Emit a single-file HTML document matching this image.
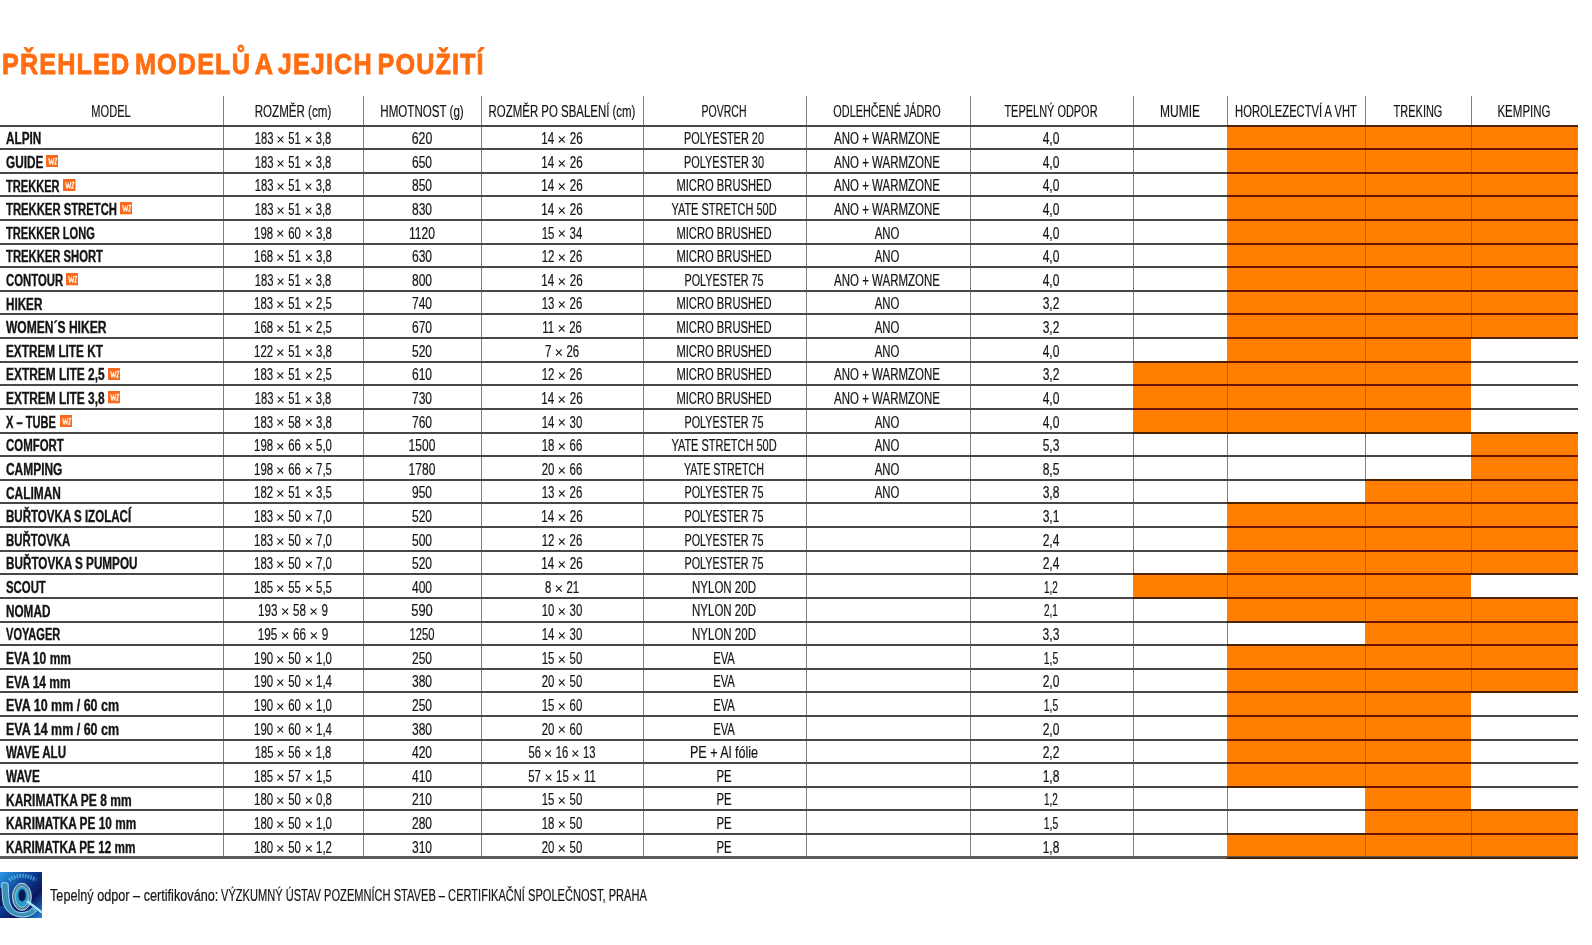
<!DOCTYPE html><html><head><meta charset="utf-8"><title>Přehled modelů</title><style>
html,body{margin:0;padding:0;}
body{width:1592px;height:945px;overflow:hidden;position:relative;background:#fff;font-family:"Liberation Sans",sans-serif;color:#141414;}
.t{position:absolute;white-space:nowrap;line-height:1;}
.o{position:absolute;background:#ff8000;}
.h{position:absolute;height:2px;}
.v{position:absolute;width:1px;}
.wz{position:absolute;width:12.5px;height:12.3px;}
.wz span{position:absolute;left:0;right:0;top:1.6px;text-align:center;font-weight:bold;font-size:10.2px;line-height:1;color:#ffe6cf;transform:scaleX(0.56);}
.rg{-webkit-text-stroke:0.2px currentColor;}
.bd{-webkit-text-stroke:0.35px currentColor;}
.x{display:inline-block;width:9.3px;height:7.1px;vertical-align:1px;margin:0 1.4px}

</style></head><body>

<div class="t bd" style="top:49.41px;font-size:29.4px;font-weight:bold;color:#ff6d10;left:1.50px;transform:scaleX(0.8580);transform-origin:0 0;"><span style="letter-spacing:1.3px;word-spacing:-4px;-webkit-text-stroke:0.8px #ff6d10">PŘEHLED MODELŮ A JEJICH POUŽITÍ</span></div>
<div class="o" style="left:1227px;top:125.50px;width:138px;height:23.62px"></div>
<div class="o" style="left:1365px;top:125.50px;width:106px;height:23.62px"></div>
<div class="o" style="left:1471px;top:125.50px;width:107px;height:23.62px"></div>
<div class="o" style="left:1227px;top:149.12px;width:138px;height:23.62px"></div>
<div class="o" style="left:1365px;top:149.12px;width:106px;height:23.62px"></div>
<div class="o" style="left:1471px;top:149.12px;width:107px;height:23.62px"></div>
<div class="o" style="left:1227px;top:172.74px;width:138px;height:23.62px"></div>
<div class="o" style="left:1365px;top:172.74px;width:106px;height:23.62px"></div>
<div class="o" style="left:1471px;top:172.74px;width:107px;height:23.62px"></div>
<div class="o" style="left:1227px;top:196.36px;width:138px;height:23.62px"></div>
<div class="o" style="left:1365px;top:196.36px;width:106px;height:23.62px"></div>
<div class="o" style="left:1471px;top:196.36px;width:107px;height:23.62px"></div>
<div class="o" style="left:1227px;top:219.98px;width:138px;height:23.62px"></div>
<div class="o" style="left:1365px;top:219.98px;width:106px;height:23.62px"></div>
<div class="o" style="left:1471px;top:219.98px;width:107px;height:23.62px"></div>
<div class="o" style="left:1227px;top:243.60px;width:138px;height:23.62px"></div>
<div class="o" style="left:1365px;top:243.60px;width:106px;height:23.62px"></div>
<div class="o" style="left:1471px;top:243.60px;width:107px;height:23.62px"></div>
<div class="o" style="left:1227px;top:267.22px;width:138px;height:23.62px"></div>
<div class="o" style="left:1365px;top:267.22px;width:106px;height:23.62px"></div>
<div class="o" style="left:1471px;top:267.22px;width:107px;height:23.62px"></div>
<div class="o" style="left:1227px;top:290.84px;width:138px;height:23.62px"></div>
<div class="o" style="left:1365px;top:290.84px;width:106px;height:23.62px"></div>
<div class="o" style="left:1471px;top:290.84px;width:107px;height:23.62px"></div>
<div class="o" style="left:1227px;top:314.46px;width:138px;height:23.62px"></div>
<div class="o" style="left:1365px;top:314.46px;width:106px;height:23.62px"></div>
<div class="o" style="left:1471px;top:314.46px;width:107px;height:23.62px"></div>
<div class="o" style="left:1227px;top:338.08px;width:138px;height:23.62px"></div>
<div class="o" style="left:1365px;top:338.08px;width:106px;height:23.62px"></div>
<div class="o" style="left:1133px;top:361.70px;width:94px;height:23.62px"></div>
<div class="o" style="left:1227px;top:361.70px;width:138px;height:23.62px"></div>
<div class="o" style="left:1365px;top:361.70px;width:106px;height:23.62px"></div>
<div class="o" style="left:1133px;top:385.32px;width:94px;height:23.62px"></div>
<div class="o" style="left:1227px;top:385.32px;width:138px;height:23.62px"></div>
<div class="o" style="left:1365px;top:385.32px;width:106px;height:23.62px"></div>
<div class="o" style="left:1133px;top:408.94px;width:94px;height:23.62px"></div>
<div class="o" style="left:1227px;top:408.94px;width:138px;height:23.62px"></div>
<div class="o" style="left:1365px;top:408.94px;width:106px;height:23.62px"></div>
<div class="o" style="left:1471px;top:432.56px;width:107px;height:23.62px"></div>
<div class="o" style="left:1471px;top:456.18px;width:107px;height:23.62px"></div>
<div class="o" style="left:1365px;top:479.80px;width:106px;height:23.62px"></div>
<div class="o" style="left:1471px;top:479.80px;width:107px;height:23.62px"></div>
<div class="o" style="left:1227px;top:503.42px;width:138px;height:23.62px"></div>
<div class="o" style="left:1365px;top:503.42px;width:106px;height:23.62px"></div>
<div class="o" style="left:1471px;top:503.42px;width:107px;height:23.62px"></div>
<div class="o" style="left:1227px;top:527.04px;width:138px;height:23.62px"></div>
<div class="o" style="left:1365px;top:527.04px;width:106px;height:23.62px"></div>
<div class="o" style="left:1471px;top:527.04px;width:107px;height:23.62px"></div>
<div class="o" style="left:1227px;top:550.66px;width:138px;height:23.62px"></div>
<div class="o" style="left:1365px;top:550.66px;width:106px;height:23.62px"></div>
<div class="o" style="left:1471px;top:550.66px;width:107px;height:23.62px"></div>
<div class="o" style="left:1133px;top:574.28px;width:94px;height:23.62px"></div>
<div class="o" style="left:1227px;top:574.28px;width:138px;height:23.62px"></div>
<div class="o" style="left:1365px;top:574.28px;width:106px;height:23.62px"></div>
<div class="o" style="left:1227px;top:597.90px;width:138px;height:23.62px"></div>
<div class="o" style="left:1365px;top:597.90px;width:106px;height:23.62px"></div>
<div class="o" style="left:1471px;top:597.90px;width:107px;height:23.62px"></div>
<div class="o" style="left:1365px;top:621.52px;width:106px;height:23.62px"></div>
<div class="o" style="left:1471px;top:621.52px;width:107px;height:23.62px"></div>
<div class="o" style="left:1227px;top:645.14px;width:138px;height:23.62px"></div>
<div class="o" style="left:1365px;top:645.14px;width:106px;height:23.62px"></div>
<div class="o" style="left:1471px;top:645.14px;width:107px;height:23.62px"></div>
<div class="o" style="left:1227px;top:668.76px;width:138px;height:23.62px"></div>
<div class="o" style="left:1365px;top:668.76px;width:106px;height:23.62px"></div>
<div class="o" style="left:1471px;top:668.76px;width:107px;height:23.62px"></div>
<div class="o" style="left:1227px;top:692.38px;width:138px;height:23.62px"></div>
<div class="o" style="left:1365px;top:692.38px;width:106px;height:23.62px"></div>
<div class="o" style="left:1227px;top:716.00px;width:138px;height:23.62px"></div>
<div class="o" style="left:1365px;top:716.00px;width:106px;height:23.62px"></div>
<div class="o" style="left:1227px;top:739.62px;width:138px;height:23.62px"></div>
<div class="o" style="left:1365px;top:739.62px;width:106px;height:23.62px"></div>
<div class="o" style="left:1227px;top:763.24px;width:138px;height:23.62px"></div>
<div class="o" style="left:1365px;top:763.24px;width:106px;height:23.62px"></div>
<div class="o" style="left:1365px;top:786.86px;width:106px;height:23.62px"></div>
<div class="o" style="left:1365px;top:810.48px;width:106px;height:23.62px"></div>
<div class="o" style="left:1471px;top:810.48px;width:107px;height:23.62px"></div>
<div class="o" style="left:1227px;top:834.10px;width:138px;height:23.62px"></div>
<div class="o" style="left:1365px;top:834.10px;width:106px;height:23.62px"></div>
<div class="o" style="left:1471px;top:834.10px;width:107px;height:23.62px"></div>
<div class="v" style="left:223px;top:96px;height:29.50px;background:#808080"></div>
<div class="v" style="left:223px;top:125.50px;height:23.62px;background:#808080"></div>
<div class="v" style="left:223px;top:149.12px;height:23.62px;background:#808080"></div>
<div class="v" style="left:223px;top:172.74px;height:23.62px;background:#808080"></div>
<div class="v" style="left:223px;top:196.36px;height:23.62px;background:#808080"></div>
<div class="v" style="left:223px;top:219.98px;height:23.62px;background:#808080"></div>
<div class="v" style="left:223px;top:243.60px;height:23.62px;background:#808080"></div>
<div class="v" style="left:223px;top:267.22px;height:23.62px;background:#808080"></div>
<div class="v" style="left:223px;top:290.84px;height:23.62px;background:#808080"></div>
<div class="v" style="left:223px;top:314.46px;height:23.62px;background:#808080"></div>
<div class="v" style="left:223px;top:338.08px;height:23.62px;background:#808080"></div>
<div class="v" style="left:223px;top:361.70px;height:23.62px;background:#808080"></div>
<div class="v" style="left:223px;top:385.32px;height:23.62px;background:#808080"></div>
<div class="v" style="left:223px;top:408.94px;height:23.62px;background:#808080"></div>
<div class="v" style="left:223px;top:432.56px;height:23.62px;background:#808080"></div>
<div class="v" style="left:223px;top:456.18px;height:23.62px;background:#808080"></div>
<div class="v" style="left:223px;top:479.80px;height:23.62px;background:#808080"></div>
<div class="v" style="left:223px;top:503.42px;height:23.62px;background:#808080"></div>
<div class="v" style="left:223px;top:527.04px;height:23.62px;background:#808080"></div>
<div class="v" style="left:223px;top:550.66px;height:23.62px;background:#808080"></div>
<div class="v" style="left:223px;top:574.28px;height:23.62px;background:#808080"></div>
<div class="v" style="left:223px;top:597.90px;height:23.62px;background:#808080"></div>
<div class="v" style="left:223px;top:621.52px;height:23.62px;background:#808080"></div>
<div class="v" style="left:223px;top:645.14px;height:23.62px;background:#808080"></div>
<div class="v" style="left:223px;top:668.76px;height:23.62px;background:#808080"></div>
<div class="v" style="left:223px;top:692.38px;height:23.62px;background:#808080"></div>
<div class="v" style="left:223px;top:716.00px;height:23.62px;background:#808080"></div>
<div class="v" style="left:223px;top:739.62px;height:23.62px;background:#808080"></div>
<div class="v" style="left:223px;top:763.24px;height:23.62px;background:#808080"></div>
<div class="v" style="left:223px;top:786.86px;height:23.62px;background:#808080"></div>
<div class="v" style="left:223px;top:810.48px;height:23.62px;background:#808080"></div>
<div class="v" style="left:223px;top:834.10px;height:23.62px;background:#808080"></div>
<div class="v" style="left:363px;top:96px;height:29.50px;background:#808080"></div>
<div class="v" style="left:363px;top:125.50px;height:23.62px;background:#808080"></div>
<div class="v" style="left:363px;top:149.12px;height:23.62px;background:#808080"></div>
<div class="v" style="left:363px;top:172.74px;height:23.62px;background:#808080"></div>
<div class="v" style="left:363px;top:196.36px;height:23.62px;background:#808080"></div>
<div class="v" style="left:363px;top:219.98px;height:23.62px;background:#808080"></div>
<div class="v" style="left:363px;top:243.60px;height:23.62px;background:#808080"></div>
<div class="v" style="left:363px;top:267.22px;height:23.62px;background:#808080"></div>
<div class="v" style="left:363px;top:290.84px;height:23.62px;background:#808080"></div>
<div class="v" style="left:363px;top:314.46px;height:23.62px;background:#808080"></div>
<div class="v" style="left:363px;top:338.08px;height:23.62px;background:#808080"></div>
<div class="v" style="left:363px;top:361.70px;height:23.62px;background:#808080"></div>
<div class="v" style="left:363px;top:385.32px;height:23.62px;background:#808080"></div>
<div class="v" style="left:363px;top:408.94px;height:23.62px;background:#808080"></div>
<div class="v" style="left:363px;top:432.56px;height:23.62px;background:#808080"></div>
<div class="v" style="left:363px;top:456.18px;height:23.62px;background:#808080"></div>
<div class="v" style="left:363px;top:479.80px;height:23.62px;background:#808080"></div>
<div class="v" style="left:363px;top:503.42px;height:23.62px;background:#808080"></div>
<div class="v" style="left:363px;top:527.04px;height:23.62px;background:#808080"></div>
<div class="v" style="left:363px;top:550.66px;height:23.62px;background:#808080"></div>
<div class="v" style="left:363px;top:574.28px;height:23.62px;background:#808080"></div>
<div class="v" style="left:363px;top:597.90px;height:23.62px;background:#808080"></div>
<div class="v" style="left:363px;top:621.52px;height:23.62px;background:#808080"></div>
<div class="v" style="left:363px;top:645.14px;height:23.62px;background:#808080"></div>
<div class="v" style="left:363px;top:668.76px;height:23.62px;background:#808080"></div>
<div class="v" style="left:363px;top:692.38px;height:23.62px;background:#808080"></div>
<div class="v" style="left:363px;top:716.00px;height:23.62px;background:#808080"></div>
<div class="v" style="left:363px;top:739.62px;height:23.62px;background:#808080"></div>
<div class="v" style="left:363px;top:763.24px;height:23.62px;background:#808080"></div>
<div class="v" style="left:363px;top:786.86px;height:23.62px;background:#808080"></div>
<div class="v" style="left:363px;top:810.48px;height:23.62px;background:#808080"></div>
<div class="v" style="left:363px;top:834.10px;height:23.62px;background:#808080"></div>
<div class="v" style="left:481px;top:96px;height:29.50px;background:#808080"></div>
<div class="v" style="left:481px;top:125.50px;height:23.62px;background:#808080"></div>
<div class="v" style="left:481px;top:149.12px;height:23.62px;background:#808080"></div>
<div class="v" style="left:481px;top:172.74px;height:23.62px;background:#808080"></div>
<div class="v" style="left:481px;top:196.36px;height:23.62px;background:#808080"></div>
<div class="v" style="left:481px;top:219.98px;height:23.62px;background:#808080"></div>
<div class="v" style="left:481px;top:243.60px;height:23.62px;background:#808080"></div>
<div class="v" style="left:481px;top:267.22px;height:23.62px;background:#808080"></div>
<div class="v" style="left:481px;top:290.84px;height:23.62px;background:#808080"></div>
<div class="v" style="left:481px;top:314.46px;height:23.62px;background:#808080"></div>
<div class="v" style="left:481px;top:338.08px;height:23.62px;background:#808080"></div>
<div class="v" style="left:481px;top:361.70px;height:23.62px;background:#808080"></div>
<div class="v" style="left:481px;top:385.32px;height:23.62px;background:#808080"></div>
<div class="v" style="left:481px;top:408.94px;height:23.62px;background:#808080"></div>
<div class="v" style="left:481px;top:432.56px;height:23.62px;background:#808080"></div>
<div class="v" style="left:481px;top:456.18px;height:23.62px;background:#808080"></div>
<div class="v" style="left:481px;top:479.80px;height:23.62px;background:#808080"></div>
<div class="v" style="left:481px;top:503.42px;height:23.62px;background:#808080"></div>
<div class="v" style="left:481px;top:527.04px;height:23.62px;background:#808080"></div>
<div class="v" style="left:481px;top:550.66px;height:23.62px;background:#808080"></div>
<div class="v" style="left:481px;top:574.28px;height:23.62px;background:#808080"></div>
<div class="v" style="left:481px;top:597.90px;height:23.62px;background:#808080"></div>
<div class="v" style="left:481px;top:621.52px;height:23.62px;background:#808080"></div>
<div class="v" style="left:481px;top:645.14px;height:23.62px;background:#808080"></div>
<div class="v" style="left:481px;top:668.76px;height:23.62px;background:#808080"></div>
<div class="v" style="left:481px;top:692.38px;height:23.62px;background:#808080"></div>
<div class="v" style="left:481px;top:716.00px;height:23.62px;background:#808080"></div>
<div class="v" style="left:481px;top:739.62px;height:23.62px;background:#808080"></div>
<div class="v" style="left:481px;top:763.24px;height:23.62px;background:#808080"></div>
<div class="v" style="left:481px;top:786.86px;height:23.62px;background:#808080"></div>
<div class="v" style="left:481px;top:810.48px;height:23.62px;background:#808080"></div>
<div class="v" style="left:481px;top:834.10px;height:23.62px;background:#808080"></div>
<div class="v" style="left:643px;top:96px;height:29.50px;background:#808080"></div>
<div class="v" style="left:643px;top:125.50px;height:23.62px;background:#808080"></div>
<div class="v" style="left:643px;top:149.12px;height:23.62px;background:#808080"></div>
<div class="v" style="left:643px;top:172.74px;height:23.62px;background:#808080"></div>
<div class="v" style="left:643px;top:196.36px;height:23.62px;background:#808080"></div>
<div class="v" style="left:643px;top:219.98px;height:23.62px;background:#808080"></div>
<div class="v" style="left:643px;top:243.60px;height:23.62px;background:#808080"></div>
<div class="v" style="left:643px;top:267.22px;height:23.62px;background:#808080"></div>
<div class="v" style="left:643px;top:290.84px;height:23.62px;background:#808080"></div>
<div class="v" style="left:643px;top:314.46px;height:23.62px;background:#808080"></div>
<div class="v" style="left:643px;top:338.08px;height:23.62px;background:#808080"></div>
<div class="v" style="left:643px;top:361.70px;height:23.62px;background:#808080"></div>
<div class="v" style="left:643px;top:385.32px;height:23.62px;background:#808080"></div>
<div class="v" style="left:643px;top:408.94px;height:23.62px;background:#808080"></div>
<div class="v" style="left:643px;top:432.56px;height:23.62px;background:#808080"></div>
<div class="v" style="left:643px;top:456.18px;height:23.62px;background:#808080"></div>
<div class="v" style="left:643px;top:479.80px;height:23.62px;background:#808080"></div>
<div class="v" style="left:643px;top:503.42px;height:23.62px;background:#808080"></div>
<div class="v" style="left:643px;top:527.04px;height:23.62px;background:#808080"></div>
<div class="v" style="left:643px;top:550.66px;height:23.62px;background:#808080"></div>
<div class="v" style="left:643px;top:574.28px;height:23.62px;background:#808080"></div>
<div class="v" style="left:643px;top:597.90px;height:23.62px;background:#808080"></div>
<div class="v" style="left:643px;top:621.52px;height:23.62px;background:#808080"></div>
<div class="v" style="left:643px;top:645.14px;height:23.62px;background:#808080"></div>
<div class="v" style="left:643px;top:668.76px;height:23.62px;background:#808080"></div>
<div class="v" style="left:643px;top:692.38px;height:23.62px;background:#808080"></div>
<div class="v" style="left:643px;top:716.00px;height:23.62px;background:#808080"></div>
<div class="v" style="left:643px;top:739.62px;height:23.62px;background:#808080"></div>
<div class="v" style="left:643px;top:763.24px;height:23.62px;background:#808080"></div>
<div class="v" style="left:643px;top:786.86px;height:23.62px;background:#808080"></div>
<div class="v" style="left:643px;top:810.48px;height:23.62px;background:#808080"></div>
<div class="v" style="left:643px;top:834.10px;height:23.62px;background:#808080"></div>
<div class="v" style="left:806px;top:96px;height:29.50px;background:#808080"></div>
<div class="v" style="left:806px;top:125.50px;height:23.62px;background:#808080"></div>
<div class="v" style="left:806px;top:149.12px;height:23.62px;background:#808080"></div>
<div class="v" style="left:806px;top:172.74px;height:23.62px;background:#808080"></div>
<div class="v" style="left:806px;top:196.36px;height:23.62px;background:#808080"></div>
<div class="v" style="left:806px;top:219.98px;height:23.62px;background:#808080"></div>
<div class="v" style="left:806px;top:243.60px;height:23.62px;background:#808080"></div>
<div class="v" style="left:806px;top:267.22px;height:23.62px;background:#808080"></div>
<div class="v" style="left:806px;top:290.84px;height:23.62px;background:#808080"></div>
<div class="v" style="left:806px;top:314.46px;height:23.62px;background:#808080"></div>
<div class="v" style="left:806px;top:338.08px;height:23.62px;background:#808080"></div>
<div class="v" style="left:806px;top:361.70px;height:23.62px;background:#808080"></div>
<div class="v" style="left:806px;top:385.32px;height:23.62px;background:#808080"></div>
<div class="v" style="left:806px;top:408.94px;height:23.62px;background:#808080"></div>
<div class="v" style="left:806px;top:432.56px;height:23.62px;background:#808080"></div>
<div class="v" style="left:806px;top:456.18px;height:23.62px;background:#808080"></div>
<div class="v" style="left:806px;top:479.80px;height:23.62px;background:#808080"></div>
<div class="v" style="left:806px;top:503.42px;height:23.62px;background:#808080"></div>
<div class="v" style="left:806px;top:527.04px;height:23.62px;background:#808080"></div>
<div class="v" style="left:806px;top:550.66px;height:23.62px;background:#808080"></div>
<div class="v" style="left:806px;top:574.28px;height:23.62px;background:#808080"></div>
<div class="v" style="left:806px;top:597.90px;height:23.62px;background:#808080"></div>
<div class="v" style="left:806px;top:621.52px;height:23.62px;background:#808080"></div>
<div class="v" style="left:806px;top:645.14px;height:23.62px;background:#808080"></div>
<div class="v" style="left:806px;top:668.76px;height:23.62px;background:#808080"></div>
<div class="v" style="left:806px;top:692.38px;height:23.62px;background:#808080"></div>
<div class="v" style="left:806px;top:716.00px;height:23.62px;background:#808080"></div>
<div class="v" style="left:806px;top:739.62px;height:23.62px;background:#808080"></div>
<div class="v" style="left:806px;top:763.24px;height:23.62px;background:#808080"></div>
<div class="v" style="left:806px;top:786.86px;height:23.62px;background:#808080"></div>
<div class="v" style="left:806px;top:810.48px;height:23.62px;background:#808080"></div>
<div class="v" style="left:806px;top:834.10px;height:23.62px;background:#808080"></div>
<div class="v" style="left:970px;top:96px;height:29.50px;background:#808080"></div>
<div class="v" style="left:970px;top:125.50px;height:23.62px;background:#808080"></div>
<div class="v" style="left:970px;top:149.12px;height:23.62px;background:#808080"></div>
<div class="v" style="left:970px;top:172.74px;height:23.62px;background:#808080"></div>
<div class="v" style="left:970px;top:196.36px;height:23.62px;background:#808080"></div>
<div class="v" style="left:970px;top:219.98px;height:23.62px;background:#808080"></div>
<div class="v" style="left:970px;top:243.60px;height:23.62px;background:#808080"></div>
<div class="v" style="left:970px;top:267.22px;height:23.62px;background:#808080"></div>
<div class="v" style="left:970px;top:290.84px;height:23.62px;background:#808080"></div>
<div class="v" style="left:970px;top:314.46px;height:23.62px;background:#808080"></div>
<div class="v" style="left:970px;top:338.08px;height:23.62px;background:#808080"></div>
<div class="v" style="left:970px;top:361.70px;height:23.62px;background:#808080"></div>
<div class="v" style="left:970px;top:385.32px;height:23.62px;background:#808080"></div>
<div class="v" style="left:970px;top:408.94px;height:23.62px;background:#808080"></div>
<div class="v" style="left:970px;top:432.56px;height:23.62px;background:#808080"></div>
<div class="v" style="left:970px;top:456.18px;height:23.62px;background:#808080"></div>
<div class="v" style="left:970px;top:479.80px;height:23.62px;background:#808080"></div>
<div class="v" style="left:970px;top:503.42px;height:23.62px;background:#808080"></div>
<div class="v" style="left:970px;top:527.04px;height:23.62px;background:#808080"></div>
<div class="v" style="left:970px;top:550.66px;height:23.62px;background:#808080"></div>
<div class="v" style="left:970px;top:574.28px;height:23.62px;background:#808080"></div>
<div class="v" style="left:970px;top:597.90px;height:23.62px;background:#808080"></div>
<div class="v" style="left:970px;top:621.52px;height:23.62px;background:#808080"></div>
<div class="v" style="left:970px;top:645.14px;height:23.62px;background:#808080"></div>
<div class="v" style="left:970px;top:668.76px;height:23.62px;background:#808080"></div>
<div class="v" style="left:970px;top:692.38px;height:23.62px;background:#808080"></div>
<div class="v" style="left:970px;top:716.00px;height:23.62px;background:#808080"></div>
<div class="v" style="left:970px;top:739.62px;height:23.62px;background:#808080"></div>
<div class="v" style="left:970px;top:763.24px;height:23.62px;background:#808080"></div>
<div class="v" style="left:970px;top:786.86px;height:23.62px;background:#808080"></div>
<div class="v" style="left:970px;top:810.48px;height:23.62px;background:#808080"></div>
<div class="v" style="left:970px;top:834.10px;height:23.62px;background:#808080"></div>
<div class="v" style="left:1133px;top:96px;height:29.50px;background:#808080"></div>
<div class="v" style="left:1133px;top:125.50px;height:23.62px;background:#808080"></div>
<div class="v" style="left:1133px;top:149.12px;height:23.62px;background:#808080"></div>
<div class="v" style="left:1133px;top:172.74px;height:23.62px;background:#808080"></div>
<div class="v" style="left:1133px;top:196.36px;height:23.62px;background:#808080"></div>
<div class="v" style="left:1133px;top:219.98px;height:23.62px;background:#808080"></div>
<div class="v" style="left:1133px;top:243.60px;height:23.62px;background:#808080"></div>
<div class="v" style="left:1133px;top:267.22px;height:23.62px;background:#808080"></div>
<div class="v" style="left:1133px;top:290.84px;height:23.62px;background:#808080"></div>
<div class="v" style="left:1133px;top:314.46px;height:23.62px;background:#808080"></div>
<div class="v" style="left:1133px;top:338.08px;height:23.62px;background:#808080"></div>
<div class="v" style="left:1133px;top:432.56px;height:23.62px;background:#808080"></div>
<div class="v" style="left:1133px;top:456.18px;height:23.62px;background:#808080"></div>
<div class="v" style="left:1133px;top:479.80px;height:23.62px;background:#808080"></div>
<div class="v" style="left:1133px;top:503.42px;height:23.62px;background:#808080"></div>
<div class="v" style="left:1133px;top:527.04px;height:23.62px;background:#808080"></div>
<div class="v" style="left:1133px;top:550.66px;height:23.62px;background:#808080"></div>
<div class="v" style="left:1133px;top:597.90px;height:23.62px;background:#808080"></div>
<div class="v" style="left:1133px;top:621.52px;height:23.62px;background:#808080"></div>
<div class="v" style="left:1133px;top:645.14px;height:23.62px;background:#808080"></div>
<div class="v" style="left:1133px;top:668.76px;height:23.62px;background:#808080"></div>
<div class="v" style="left:1133px;top:692.38px;height:23.62px;background:#808080"></div>
<div class="v" style="left:1133px;top:716.00px;height:23.62px;background:#808080"></div>
<div class="v" style="left:1133px;top:739.62px;height:23.62px;background:#808080"></div>
<div class="v" style="left:1133px;top:763.24px;height:23.62px;background:#808080"></div>
<div class="v" style="left:1133px;top:786.86px;height:23.62px;background:#808080"></div>
<div class="v" style="left:1133px;top:810.48px;height:23.62px;background:#808080"></div>
<div class="v" style="left:1133px;top:834.10px;height:23.62px;background:#808080"></div>
<div class="v" style="left:1227px;top:96px;height:29.50px;background:#808080"></div>
<div class="v" style="left:1227px;top:361.70px;height:23.62px;background:#c85f00"></div>
<div class="v" style="left:1227px;top:385.32px;height:23.62px;background:#c85f00"></div>
<div class="v" style="left:1227px;top:408.94px;height:23.62px;background:#c85f00"></div>
<div class="v" style="left:1227px;top:432.56px;height:23.62px;background:#808080"></div>
<div class="v" style="left:1227px;top:456.18px;height:23.62px;background:#808080"></div>
<div class="v" style="left:1227px;top:479.80px;height:23.62px;background:#808080"></div>
<div class="v" style="left:1227px;top:574.28px;height:23.62px;background:#c85f00"></div>
<div class="v" style="left:1227px;top:621.52px;height:23.62px;background:#808080"></div>
<div class="v" style="left:1227px;top:786.86px;height:23.62px;background:#808080"></div>
<div class="v" style="left:1227px;top:810.48px;height:23.62px;background:#808080"></div>
<div class="v" style="left:1365px;top:96px;height:29.50px;background:#808080"></div>
<div class="v" style="left:1365px;top:125.50px;height:23.62px;background:#c85f00"></div>
<div class="v" style="left:1365px;top:149.12px;height:23.62px;background:#c85f00"></div>
<div class="v" style="left:1365px;top:172.74px;height:23.62px;background:#c85f00"></div>
<div class="v" style="left:1365px;top:196.36px;height:23.62px;background:#c85f00"></div>
<div class="v" style="left:1365px;top:219.98px;height:23.62px;background:#c85f00"></div>
<div class="v" style="left:1365px;top:243.60px;height:23.62px;background:#c85f00"></div>
<div class="v" style="left:1365px;top:267.22px;height:23.62px;background:#c85f00"></div>
<div class="v" style="left:1365px;top:290.84px;height:23.62px;background:#c85f00"></div>
<div class="v" style="left:1365px;top:314.46px;height:23.62px;background:#c85f00"></div>
<div class="v" style="left:1365px;top:338.08px;height:23.62px;background:#c85f00"></div>
<div class="v" style="left:1365px;top:361.70px;height:23.62px;background:#c85f00"></div>
<div class="v" style="left:1365px;top:385.32px;height:23.62px;background:#c85f00"></div>
<div class="v" style="left:1365px;top:408.94px;height:23.62px;background:#c85f00"></div>
<div class="v" style="left:1365px;top:432.56px;height:23.62px;background:#808080"></div>
<div class="v" style="left:1365px;top:456.18px;height:23.62px;background:#808080"></div>
<div class="v" style="left:1365px;top:503.42px;height:23.62px;background:#c85f00"></div>
<div class="v" style="left:1365px;top:527.04px;height:23.62px;background:#c85f00"></div>
<div class="v" style="left:1365px;top:550.66px;height:23.62px;background:#c85f00"></div>
<div class="v" style="left:1365px;top:574.28px;height:23.62px;background:#c85f00"></div>
<div class="v" style="left:1365px;top:597.90px;height:23.62px;background:#c85f00"></div>
<div class="v" style="left:1365px;top:645.14px;height:23.62px;background:#c85f00"></div>
<div class="v" style="left:1365px;top:668.76px;height:23.62px;background:#c85f00"></div>
<div class="v" style="left:1365px;top:692.38px;height:23.62px;background:#c85f00"></div>
<div class="v" style="left:1365px;top:716.00px;height:23.62px;background:#c85f00"></div>
<div class="v" style="left:1365px;top:739.62px;height:23.62px;background:#c85f00"></div>
<div class="v" style="left:1365px;top:763.24px;height:23.62px;background:#c85f00"></div>
<div class="v" style="left:1365px;top:834.10px;height:23.62px;background:#c85f00"></div>
<div class="v" style="left:1471px;top:96px;height:29.50px;background:#808080"></div>
<div class="v" style="left:1471px;top:125.50px;height:23.62px;background:#c85f00"></div>
<div class="v" style="left:1471px;top:149.12px;height:23.62px;background:#c85f00"></div>
<div class="v" style="left:1471px;top:172.74px;height:23.62px;background:#c85f00"></div>
<div class="v" style="left:1471px;top:196.36px;height:23.62px;background:#c85f00"></div>
<div class="v" style="left:1471px;top:219.98px;height:23.62px;background:#c85f00"></div>
<div class="v" style="left:1471px;top:243.60px;height:23.62px;background:#c85f00"></div>
<div class="v" style="left:1471px;top:267.22px;height:23.62px;background:#c85f00"></div>
<div class="v" style="left:1471px;top:290.84px;height:23.62px;background:#c85f00"></div>
<div class="v" style="left:1471px;top:314.46px;height:23.62px;background:#c85f00"></div>
<div class="v" style="left:1471px;top:479.80px;height:23.62px;background:#c85f00"></div>
<div class="v" style="left:1471px;top:503.42px;height:23.62px;background:#c85f00"></div>
<div class="v" style="left:1471px;top:527.04px;height:23.62px;background:#c85f00"></div>
<div class="v" style="left:1471px;top:550.66px;height:23.62px;background:#c85f00"></div>
<div class="v" style="left:1471px;top:597.90px;height:23.62px;background:#c85f00"></div>
<div class="v" style="left:1471px;top:621.52px;height:23.62px;background:#c85f00"></div>
<div class="v" style="left:1471px;top:645.14px;height:23.62px;background:#c85f00"></div>
<div class="v" style="left:1471px;top:668.76px;height:23.62px;background:#c85f00"></div>
<div class="v" style="left:1471px;top:810.48px;height:23.62px;background:#c85f00"></div>
<div class="v" style="left:1471px;top:834.10px;height:23.62px;background:#c85f00"></div>
<div class="h" style="left:0;top:124.50px;width:1578px;background:#484848"></div>
<div class="h" style="left:1227px;top:124.50px;width:138px;background:#4a2200"></div>
<div class="h" style="left:1365px;top:124.50px;width:106px;background:#4a2200"></div>
<div class="h" style="left:1471px;top:124.50px;width:107px;background:#4a2200"></div>
<div class="h" style="left:0;top:148.12px;width:1578px;background:#484848"></div>
<div class="h" style="left:1227px;top:148.12px;width:138px;background:#6a1300"></div>
<div class="h" style="left:1365px;top:148.12px;width:106px;background:#6a1300"></div>
<div class="h" style="left:1471px;top:148.12px;width:107px;background:#6a1300"></div>
<div class="h" style="left:0;top:171.74px;width:1578px;background:#484848"></div>
<div class="h" style="left:1227px;top:171.74px;width:138px;background:#6a1300"></div>
<div class="h" style="left:1365px;top:171.74px;width:106px;background:#6a1300"></div>
<div class="h" style="left:1471px;top:171.74px;width:107px;background:#6a1300"></div>
<div class="h" style="left:0;top:195.36px;width:1578px;background:#484848"></div>
<div class="h" style="left:1227px;top:195.36px;width:138px;background:#6a1300"></div>
<div class="h" style="left:1365px;top:195.36px;width:106px;background:#6a1300"></div>
<div class="h" style="left:1471px;top:195.36px;width:107px;background:#6a1300"></div>
<div class="h" style="left:0;top:218.98px;width:1578px;background:#484848"></div>
<div class="h" style="left:1227px;top:218.98px;width:138px;background:#6a1300"></div>
<div class="h" style="left:1365px;top:218.98px;width:106px;background:#6a1300"></div>
<div class="h" style="left:1471px;top:218.98px;width:107px;background:#6a1300"></div>
<div class="h" style="left:0;top:242.60px;width:1578px;background:#484848"></div>
<div class="h" style="left:1227px;top:242.60px;width:138px;background:#6a1300"></div>
<div class="h" style="left:1365px;top:242.60px;width:106px;background:#6a1300"></div>
<div class="h" style="left:1471px;top:242.60px;width:107px;background:#6a1300"></div>
<div class="h" style="left:0;top:266.22px;width:1578px;background:#484848"></div>
<div class="h" style="left:1227px;top:266.22px;width:138px;background:#6a1300"></div>
<div class="h" style="left:1365px;top:266.22px;width:106px;background:#6a1300"></div>
<div class="h" style="left:1471px;top:266.22px;width:107px;background:#6a1300"></div>
<div class="h" style="left:0;top:289.84px;width:1578px;background:#484848"></div>
<div class="h" style="left:1227px;top:289.84px;width:138px;background:#6a1300"></div>
<div class="h" style="left:1365px;top:289.84px;width:106px;background:#6a1300"></div>
<div class="h" style="left:1471px;top:289.84px;width:107px;background:#6a1300"></div>
<div class="h" style="left:0;top:313.46px;width:1578px;background:#484848"></div>
<div class="h" style="left:1227px;top:313.46px;width:138px;background:#6a1300"></div>
<div class="h" style="left:1365px;top:313.46px;width:106px;background:#6a1300"></div>
<div class="h" style="left:1471px;top:313.46px;width:107px;background:#6a1300"></div>
<div class="h" style="left:0;top:337.08px;width:1578px;background:#484848"></div>
<div class="h" style="left:1227px;top:337.08px;width:138px;background:#6a1300"></div>
<div class="h" style="left:1365px;top:337.08px;width:106px;background:#6a1300"></div>
<div class="h" style="left:1471px;top:337.08px;width:107px;background:#4a2200"></div>
<div class="h" style="left:0;top:360.70px;width:1578px;background:#484848"></div>
<div class="h" style="left:1133px;top:360.70px;width:94px;background:#4a2200"></div>
<div class="h" style="left:1227px;top:360.70px;width:138px;background:#6a1300"></div>
<div class="h" style="left:1365px;top:360.70px;width:106px;background:#6a1300"></div>
<div class="h" style="left:0;top:384.32px;width:1578px;background:#484848"></div>
<div class="h" style="left:1133px;top:384.32px;width:94px;background:#6a1300"></div>
<div class="h" style="left:1227px;top:384.32px;width:138px;background:#6a1300"></div>
<div class="h" style="left:1365px;top:384.32px;width:106px;background:#6a1300"></div>
<div class="h" style="left:0;top:407.94px;width:1578px;background:#484848"></div>
<div class="h" style="left:1133px;top:407.94px;width:94px;background:#6a1300"></div>
<div class="h" style="left:1227px;top:407.94px;width:138px;background:#6a1300"></div>
<div class="h" style="left:1365px;top:407.94px;width:106px;background:#6a1300"></div>
<div class="h" style="left:0;top:431.56px;width:1578px;background:#484848"></div>
<div class="h" style="left:1133px;top:431.56px;width:94px;background:#4a2200"></div>
<div class="h" style="left:1227px;top:431.56px;width:138px;background:#4a2200"></div>
<div class="h" style="left:1365px;top:431.56px;width:106px;background:#4a2200"></div>
<div class="h" style="left:1471px;top:431.56px;width:107px;background:#4a2200"></div>
<div class="h" style="left:0;top:455.18px;width:1578px;background:#484848"></div>
<div class="h" style="left:1471px;top:455.18px;width:107px;background:#6a1300"></div>
<div class="h" style="left:0;top:478.80px;width:1578px;background:#484848"></div>
<div class="h" style="left:1365px;top:478.80px;width:106px;background:#4a2200"></div>
<div class="h" style="left:1471px;top:478.80px;width:107px;background:#6a1300"></div>
<div class="h" style="left:0;top:502.42px;width:1578px;background:#484848"></div>
<div class="h" style="left:1227px;top:502.42px;width:138px;background:#4a2200"></div>
<div class="h" style="left:1365px;top:502.42px;width:106px;background:#6a1300"></div>
<div class="h" style="left:1471px;top:502.42px;width:107px;background:#6a1300"></div>
<div class="h" style="left:0;top:526.04px;width:1578px;background:#484848"></div>
<div class="h" style="left:1227px;top:526.04px;width:138px;background:#6a1300"></div>
<div class="h" style="left:1365px;top:526.04px;width:106px;background:#6a1300"></div>
<div class="h" style="left:1471px;top:526.04px;width:107px;background:#6a1300"></div>
<div class="h" style="left:0;top:549.66px;width:1578px;background:#484848"></div>
<div class="h" style="left:1227px;top:549.66px;width:138px;background:#6a1300"></div>
<div class="h" style="left:1365px;top:549.66px;width:106px;background:#6a1300"></div>
<div class="h" style="left:1471px;top:549.66px;width:107px;background:#6a1300"></div>
<div class="h" style="left:0;top:573.28px;width:1578px;background:#484848"></div>
<div class="h" style="left:1133px;top:573.28px;width:94px;background:#4a2200"></div>
<div class="h" style="left:1227px;top:573.28px;width:138px;background:#6a1300"></div>
<div class="h" style="left:1365px;top:573.28px;width:106px;background:#6a1300"></div>
<div class="h" style="left:1471px;top:573.28px;width:107px;background:#4a2200"></div>
<div class="h" style="left:0;top:596.90px;width:1578px;background:#484848"></div>
<div class="h" style="left:1133px;top:596.90px;width:94px;background:#4a2200"></div>
<div class="h" style="left:1227px;top:596.90px;width:138px;background:#6a1300"></div>
<div class="h" style="left:1365px;top:596.90px;width:106px;background:#6a1300"></div>
<div class="h" style="left:1471px;top:596.90px;width:107px;background:#4a2200"></div>
<div class="h" style="left:0;top:620.52px;width:1578px;background:#484848"></div>
<div class="h" style="left:1227px;top:620.52px;width:138px;background:#4a2200"></div>
<div class="h" style="left:1365px;top:620.52px;width:106px;background:#6a1300"></div>
<div class="h" style="left:1471px;top:620.52px;width:107px;background:#6a1300"></div>
<div class="h" style="left:0;top:644.14px;width:1578px;background:#484848"></div>
<div class="h" style="left:1227px;top:644.14px;width:138px;background:#4a2200"></div>
<div class="h" style="left:1365px;top:644.14px;width:106px;background:#6a1300"></div>
<div class="h" style="left:1471px;top:644.14px;width:107px;background:#6a1300"></div>
<div class="h" style="left:0;top:667.76px;width:1578px;background:#484848"></div>
<div class="h" style="left:1227px;top:667.76px;width:138px;background:#6a1300"></div>
<div class="h" style="left:1365px;top:667.76px;width:106px;background:#6a1300"></div>
<div class="h" style="left:1471px;top:667.76px;width:107px;background:#6a1300"></div>
<div class="h" style="left:0;top:691.38px;width:1578px;background:#484848"></div>
<div class="h" style="left:1227px;top:691.38px;width:138px;background:#6a1300"></div>
<div class="h" style="left:1365px;top:691.38px;width:106px;background:#6a1300"></div>
<div class="h" style="left:1471px;top:691.38px;width:107px;background:#4a2200"></div>
<div class="h" style="left:0;top:715.00px;width:1578px;background:#484848"></div>
<div class="h" style="left:1227px;top:715.00px;width:138px;background:#6a1300"></div>
<div class="h" style="left:1365px;top:715.00px;width:106px;background:#6a1300"></div>
<div class="h" style="left:0;top:738.62px;width:1578px;background:#484848"></div>
<div class="h" style="left:1227px;top:738.62px;width:138px;background:#6a1300"></div>
<div class="h" style="left:1365px;top:738.62px;width:106px;background:#6a1300"></div>
<div class="h" style="left:0;top:762.24px;width:1578px;background:#484848"></div>
<div class="h" style="left:1227px;top:762.24px;width:138px;background:#6a1300"></div>
<div class="h" style="left:1365px;top:762.24px;width:106px;background:#6a1300"></div>
<div class="h" style="left:0;top:785.86px;width:1578px;background:#484848"></div>
<div class="h" style="left:1227px;top:785.86px;width:138px;background:#4a2200"></div>
<div class="h" style="left:1365px;top:785.86px;width:106px;background:#6a1300"></div>
<div class="h" style="left:0;top:809.48px;width:1578px;background:#484848"></div>
<div class="h" style="left:1365px;top:809.48px;width:106px;background:#6a1300"></div>
<div class="h" style="left:1471px;top:809.48px;width:107px;background:#4a2200"></div>
<div class="h" style="left:0;top:833.10px;width:1578px;background:#484848"></div>
<div class="h" style="left:1227px;top:833.10px;width:138px;background:#4a2200"></div>
<div class="h" style="left:1365px;top:833.10px;width:106px;background:#6a1300"></div>
<div class="h" style="left:1471px;top:833.10px;width:107px;background:#6a1300"></div>
<div class="h" style="left:0;top:856.22px;height:3px;width:1578px;background:#5a5a5a"></div>
<div class="h" style="left:1227px;top:856.72px;width:138px;background:#4a2200"></div>
<div class="h" style="left:1365px;top:856.72px;width:106px;background:#4a2200"></div>
<div class="h" style="left:1471px;top:856.72px;width:107px;background:#4a2200"></div>
<div class="t rg" style="top:102.74px;font-size:17.2px;left:-89.25px;width:400px;text-align:center;transform:scaleX(0.6450);transform-origin:50% 0;">MODEL</div>
<div class="t rg" style="top:102.74px;font-size:17.2px;left:92.50px;width:400px;text-align:center;transform:scaleX(0.6732);transform-origin:50% 0;">ROZMĚR (cm)</div>
<div class="t rg" style="top:102.74px;font-size:17.2px;left:221.50px;width:400px;text-align:center;transform:scaleX(0.6738);transform-origin:50% 0;">HMOTNOST (g)</div>
<div class="t rg" style="top:102.74px;font-size:17.2px;left:361.50px;width:400px;text-align:center;transform:scaleX(0.6658);transform-origin:50% 0;">ROZMĚR PO SBALENÍ (cm)</div>
<div class="t rg" style="top:102.74px;font-size:17.2px;left:524.00px;width:400px;text-align:center;transform:scaleX(0.6127);transform-origin:50% 0;">POVRCH</div>
<div class="t rg" style="top:102.74px;font-size:17.2px;left:687.25px;width:400px;text-align:center;transform:scaleX(0.6310);transform-origin:50% 0;">ODLEHČENÉ JÁDRO</div>
<div class="t rg" style="top:102.74px;font-size:17.2px;left:850.75px;width:400px;text-align:center;transform:scaleX(0.6372);transform-origin:50% 0;">TEPELNÝ ODPOR</div>
<div class="t rg" style="top:102.74px;font-size:17.2px;left:979.75px;width:400px;text-align:center;transform:scaleX(0.6982);transform-origin:50% 0;">MUMIE</div>
<div class="t rg" style="top:102.74px;font-size:17.2px;left:1096.00px;width:400px;text-align:center;transform:scaleX(0.6505);transform-origin:50% 0;">HOROLEZECTVÍ A VHT</div>
<div class="t rg" style="top:102.74px;font-size:17.2px;left:1218.00px;width:400px;text-align:center;transform:scaleX(0.6387);transform-origin:50% 0;">TREKING</div>
<div class="t rg" style="top:102.74px;font-size:17.2px;left:1324.00px;width:400px;text-align:center;transform:scaleX(0.6701);transform-origin:50% 0;">KEMPING</div>
<div class="t bd" style="top:131.29px;font-size:15.6px;font-weight:bold;left:6.20px;transform:scaleX(0.7543);transform-origin:0 0;">ALPIN</div>
<div class="t rg" style="top:131.09px;font-size:15.6px;left:92.50px;width:400px;text-align:center;transform:scaleX(0.7181);transform-origin:50% 0;">183 <svg class="x" viewBox="0 0 10 7" preserveAspectRatio="none"><path d="M0.7 0.5L9.3 6.5M9.3 0.5L0.7 6.5" stroke="currentColor" stroke-width="1.25" fill="none"/></svg> 51 <svg class="x" viewBox="0 0 10 7" preserveAspectRatio="none"><path d="M0.7 0.5L9.3 6.5M9.3 0.5L0.7 6.5" stroke="currentColor" stroke-width="1.25" fill="none"/></svg> 3,8</div>
<div class="t rg" style="top:131.09px;font-size:15.6px;left:221.50px;width:400px;text-align:center;transform:scaleX(0.7920);transform-origin:50% 0;">620</div>
<div class="t rg" style="top:131.09px;font-size:15.6px;left:361.50px;width:400px;text-align:center;transform:scaleX(0.7444);transform-origin:50% 0;">14 <svg class="x" viewBox="0 0 10 7" preserveAspectRatio="none"><path d="M0.7 0.5L9.3 6.5M9.3 0.5L0.7 6.5" stroke="currentColor" stroke-width="1.25" fill="none"/></svg> 26</div>
<div class="t rg" style="top:131.09px;font-size:15.6px;left:524.00px;width:400px;text-align:center;transform:scaleX(0.7009);transform-origin:50% 0;">POLYESTER 20</div>
<div class="t rg" style="top:131.09px;font-size:15.6px;left:687.25px;width:400px;text-align:center;transform:scaleX(0.7364);transform-origin:50% 0;">ANO + WARMZONE</div>
<div class="t rg" style="top:131.09px;font-size:15.6px;left:850.75px;width:400px;text-align:center;transform:scaleX(0.7714);transform-origin:50% 0;">4,0</div>
<div class="t bd" style="top:154.91px;font-size:15.6px;font-weight:bold;left:6.20px;transform:scaleX(0.7542);transform-origin:0 0;">GUIDE</div>
<svg class="wz" style="left:45.90px;top:155.12px" viewBox="0 0 12.5 12.3"><rect width="12.5" height="12.3" fill="#f7691c"/><path d="M2.7 3.1L3.9 9.5L5.3 4.9L6.7 9.5L7.9 3.1M8.7 3.5H10.7L8.8 9.2H10.8" fill="none" stroke="#ffe8d4" stroke-width="1.25" stroke-linejoin="miter"/></svg>
<div class="t rg" style="top:154.71px;font-size:15.6px;left:92.50px;width:400px;text-align:center;transform:scaleX(0.7181);transform-origin:50% 0;">183 <svg class="x" viewBox="0 0 10 7" preserveAspectRatio="none"><path d="M0.7 0.5L9.3 6.5M9.3 0.5L0.7 6.5" stroke="currentColor" stroke-width="1.25" fill="none"/></svg> 51 <svg class="x" viewBox="0 0 10 7" preserveAspectRatio="none"><path d="M0.7 0.5L9.3 6.5M9.3 0.5L0.7 6.5" stroke="currentColor" stroke-width="1.25" fill="none"/></svg> 3,8</div>
<div class="t rg" style="top:154.71px;font-size:15.6px;left:221.50px;width:400px;text-align:center;transform:scaleX(0.7714);transform-origin:50% 0;">650</div>
<div class="t rg" style="top:154.71px;font-size:15.6px;left:361.50px;width:400px;text-align:center;transform:scaleX(0.7444);transform-origin:50% 0;">14 <svg class="x" viewBox="0 0 10 7" preserveAspectRatio="none"><path d="M0.7 0.5L9.3 6.5M9.3 0.5L0.7 6.5" stroke="currentColor" stroke-width="1.25" fill="none"/></svg> 26</div>
<div class="t rg" style="top:154.71px;font-size:15.6px;left:524.00px;width:400px;text-align:center;transform:scaleX(0.7009);transform-origin:50% 0;">POLYESTER 30</div>
<div class="t rg" style="top:154.71px;font-size:15.6px;left:687.25px;width:400px;text-align:center;transform:scaleX(0.7364);transform-origin:50% 0;">ANO + WARMZONE</div>
<div class="t rg" style="top:154.71px;font-size:15.6px;left:850.75px;width:400px;text-align:center;transform:scaleX(0.7714);transform-origin:50% 0;">4,0</div>
<div class="t bd" style="top:178.53px;font-size:15.6px;font-weight:bold;left:6.20px;transform:scaleX(0.7107);transform-origin:0 0;">TREKKER</div>
<svg class="wz" style="left:63.00px;top:178.74px" viewBox="0 0 12.5 12.3"><rect width="12.5" height="12.3" fill="#f7691c"/><path d="M2.7 3.1L3.9 9.5L5.3 4.9L6.7 9.5L7.9 3.1M8.7 3.5H10.7L8.8 9.2H10.8" fill="none" stroke="#ffe8d4" stroke-width="1.25" stroke-linejoin="miter"/></svg>
<div class="t rg" style="top:178.33px;font-size:15.6px;left:92.50px;width:400px;text-align:center;transform:scaleX(0.7181);transform-origin:50% 0;">183 <svg class="x" viewBox="0 0 10 7" preserveAspectRatio="none"><path d="M0.7 0.5L9.3 6.5M9.3 0.5L0.7 6.5" stroke="currentColor" stroke-width="1.25" fill="none"/></svg> 51 <svg class="x" viewBox="0 0 10 7" preserveAspectRatio="none"><path d="M0.7 0.5L9.3 6.5M9.3 0.5L0.7 6.5" stroke="currentColor" stroke-width="1.25" fill="none"/></svg> 3,8</div>
<div class="t rg" style="top:178.33px;font-size:15.6px;left:221.50px;width:400px;text-align:center;transform:scaleX(0.7714);transform-origin:50% 0;">850</div>
<div class="t rg" style="top:178.33px;font-size:15.6px;left:361.50px;width:400px;text-align:center;transform:scaleX(0.7444);transform-origin:50% 0;">14 <svg class="x" viewBox="0 0 10 7" preserveAspectRatio="none"><path d="M0.7 0.5L9.3 6.5M9.3 0.5L0.7 6.5" stroke="currentColor" stroke-width="1.25" fill="none"/></svg> 26</div>
<div class="t rg" style="top:178.33px;font-size:15.6px;left:524.00px;width:400px;text-align:center;transform:scaleX(0.7176);transform-origin:50% 0;">MICRO BRUSHED</div>
<div class="t rg" style="top:178.33px;font-size:15.6px;left:687.25px;width:400px;text-align:center;transform:scaleX(0.7364);transform-origin:50% 0;">ANO + WARMZONE</div>
<div class="t rg" style="top:178.33px;font-size:15.6px;left:850.75px;width:400px;text-align:center;transform:scaleX(0.7714);transform-origin:50% 0;">4,0</div>
<div class="t bd" style="top:202.15px;font-size:15.6px;font-weight:bold;left:6.20px;transform:scaleX(0.7237);transform-origin:0 0;">TREKKER STRETCH</div>
<svg class="wz" style="left:119.70px;top:202.36px" viewBox="0 0 12.5 12.3"><rect width="12.5" height="12.3" fill="#f7691c"/><path d="M2.7 3.1L3.9 9.5L5.3 4.9L6.7 9.5L7.9 3.1M8.7 3.5H10.7L8.8 9.2H10.8" fill="none" stroke="#ffe8d4" stroke-width="1.25" stroke-linejoin="miter"/></svg>
<div class="t rg" style="top:201.95px;font-size:15.6px;left:92.50px;width:400px;text-align:center;transform:scaleX(0.7181);transform-origin:50% 0;">183 <svg class="x" viewBox="0 0 10 7" preserveAspectRatio="none"><path d="M0.7 0.5L9.3 6.5M9.3 0.5L0.7 6.5" stroke="currentColor" stroke-width="1.25" fill="none"/></svg> 51 <svg class="x" viewBox="0 0 10 7" preserveAspectRatio="none"><path d="M0.7 0.5L9.3 6.5M9.3 0.5L0.7 6.5" stroke="currentColor" stroke-width="1.25" fill="none"/></svg> 3,8</div>
<div class="t rg" style="top:201.95px;font-size:15.6px;left:221.50px;width:400px;text-align:center;transform:scaleX(0.7714);transform-origin:50% 0;">830</div>
<div class="t rg" style="top:201.95px;font-size:15.6px;left:361.50px;width:400px;text-align:center;transform:scaleX(0.7444);transform-origin:50% 0;">14 <svg class="x" viewBox="0 0 10 7" preserveAspectRatio="none"><path d="M0.7 0.5L9.3 6.5M9.3 0.5L0.7 6.5" stroke="currentColor" stroke-width="1.25" fill="none"/></svg> 26</div>
<div class="t rg" style="top:201.95px;font-size:15.6px;left:524.00px;width:400px;text-align:center;transform:scaleX(0.7047);transform-origin:50% 0;">YATE STRETCH 50D</div>
<div class="t rg" style="top:201.95px;font-size:15.6px;left:687.25px;width:400px;text-align:center;transform:scaleX(0.7364);transform-origin:50% 0;">ANO + WARMZONE</div>
<div class="t rg" style="top:201.95px;font-size:15.6px;left:850.75px;width:400px;text-align:center;transform:scaleX(0.7714);transform-origin:50% 0;">4,0</div>
<div class="t bd" style="top:225.77px;font-size:15.6px;font-weight:bold;left:6.20px;transform:scaleX(0.7129);transform-origin:0 0;">TREKKER LONG</div>
<div class="t rg" style="top:225.57px;font-size:15.6px;left:92.50px;width:400px;text-align:center;transform:scaleX(0.7313);transform-origin:50% 0;">198 <svg class="x" viewBox="0 0 10 7" preserveAspectRatio="none"><path d="M0.7 0.5L9.3 6.5M9.3 0.5L0.7 6.5" stroke="currentColor" stroke-width="1.25" fill="none"/></svg> 60 <svg class="x" viewBox="0 0 10 7" preserveAspectRatio="none"><path d="M0.7 0.5L9.3 6.5M9.3 0.5L0.7 6.5" stroke="currentColor" stroke-width="1.25" fill="none"/></svg> 3,8</div>
<div class="t rg" style="top:225.57px;font-size:15.6px;left:221.50px;width:400px;text-align:center;transform:scaleX(0.7714);transform-origin:50% 0;">1120</div>
<div class="t rg" style="top:225.57px;font-size:15.6px;left:361.50px;width:400px;text-align:center;transform:scaleX(0.7313);transform-origin:50% 0;">15 <svg class="x" viewBox="0 0 10 7" preserveAspectRatio="none"><path d="M0.7 0.5L9.3 6.5M9.3 0.5L0.7 6.5" stroke="currentColor" stroke-width="1.25" fill="none"/></svg> 34</div>
<div class="t rg" style="top:225.57px;font-size:15.6px;left:524.00px;width:400px;text-align:center;transform:scaleX(0.7176);transform-origin:50% 0;">MICRO BRUSHED</div>
<div class="t rg" style="top:225.57px;font-size:15.6px;left:687.25px;width:400px;text-align:center;transform:scaleX(0.7303);transform-origin:50% 0;">ANO</div>
<div class="t rg" style="top:225.57px;font-size:15.6px;left:850.75px;width:400px;text-align:center;transform:scaleX(0.7714);transform-origin:50% 0;">4,0</div>
<div class="t bd" style="top:249.39px;font-size:15.6px;font-weight:bold;left:6.20px;transform:scaleX(0.7224);transform-origin:0 0;">TREKKER SHORT</div>
<div class="t rg" style="top:249.19px;font-size:15.6px;left:92.50px;width:400px;text-align:center;transform:scaleX(0.7313);transform-origin:50% 0;">168 <svg class="x" viewBox="0 0 10 7" preserveAspectRatio="none"><path d="M0.7 0.5L9.3 6.5M9.3 0.5L0.7 6.5" stroke="currentColor" stroke-width="1.25" fill="none"/></svg> 51 <svg class="x" viewBox="0 0 10 7" preserveAspectRatio="none"><path d="M0.7 0.5L9.3 6.5M9.3 0.5L0.7 6.5" stroke="currentColor" stroke-width="1.25" fill="none"/></svg> 3,8</div>
<div class="t rg" style="top:249.19px;font-size:15.6px;left:221.50px;width:400px;text-align:center;transform:scaleX(0.7714);transform-origin:50% 0;">630</div>
<div class="t rg" style="top:249.19px;font-size:15.6px;left:361.50px;width:400px;text-align:center;transform:scaleX(0.7313);transform-origin:50% 0;">12 <svg class="x" viewBox="0 0 10 7" preserveAspectRatio="none"><path d="M0.7 0.5L9.3 6.5M9.3 0.5L0.7 6.5" stroke="currentColor" stroke-width="1.25" fill="none"/></svg> 26</div>
<div class="t rg" style="top:249.19px;font-size:15.6px;left:524.00px;width:400px;text-align:center;transform:scaleX(0.7176);transform-origin:50% 0;">MICRO BRUSHED</div>
<div class="t rg" style="top:249.19px;font-size:15.6px;left:687.25px;width:400px;text-align:center;transform:scaleX(0.7303);transform-origin:50% 0;">ANO</div>
<div class="t rg" style="top:249.19px;font-size:15.6px;left:850.75px;width:400px;text-align:center;transform:scaleX(0.7714);transform-origin:50% 0;">4,0</div>
<div class="t bd" style="top:273.01px;font-size:15.6px;font-weight:bold;left:6.20px;transform:scaleX(0.7273);transform-origin:0 0;">CONTOUR</div>
<svg class="wz" style="left:65.70px;top:273.22px" viewBox="0 0 12.5 12.3"><rect width="12.5" height="12.3" fill="#f7691c"/><path d="M2.7 3.1L3.9 9.5L5.3 4.9L6.7 9.5L7.9 3.1M8.7 3.5H10.7L8.8 9.2H10.8" fill="none" stroke="#ffe8d4" stroke-width="1.25" stroke-linejoin="miter"/></svg>
<div class="t rg" style="top:272.81px;font-size:15.6px;left:92.50px;width:400px;text-align:center;transform:scaleX(0.7181);transform-origin:50% 0;">183 <svg class="x" viewBox="0 0 10 7" preserveAspectRatio="none"><path d="M0.7 0.5L9.3 6.5M9.3 0.5L0.7 6.5" stroke="currentColor" stroke-width="1.25" fill="none"/></svg> 51 <svg class="x" viewBox="0 0 10 7" preserveAspectRatio="none"><path d="M0.7 0.5L9.3 6.5M9.3 0.5L0.7 6.5" stroke="currentColor" stroke-width="1.25" fill="none"/></svg> 3,8</div>
<div class="t rg" style="top:272.81px;font-size:15.6px;left:221.50px;width:400px;text-align:center;transform:scaleX(0.7714);transform-origin:50% 0;">800</div>
<div class="t rg" style="top:272.81px;font-size:15.6px;left:361.50px;width:400px;text-align:center;transform:scaleX(0.7444);transform-origin:50% 0;">14 <svg class="x" viewBox="0 0 10 7" preserveAspectRatio="none"><path d="M0.7 0.5L9.3 6.5M9.3 0.5L0.7 6.5" stroke="currentColor" stroke-width="1.25" fill="none"/></svg> 26</div>
<div class="t rg" style="top:272.81px;font-size:15.6px;left:524.00px;width:400px;text-align:center;transform:scaleX(0.6938);transform-origin:50% 0;">POLYESTER 75</div>
<div class="t rg" style="top:272.81px;font-size:15.6px;left:687.25px;width:400px;text-align:center;transform:scaleX(0.7364);transform-origin:50% 0;">ANO + WARMZONE</div>
<div class="t rg" style="top:272.81px;font-size:15.6px;left:850.75px;width:400px;text-align:center;transform:scaleX(0.7714);transform-origin:50% 0;">4,0</div>
<div class="t bd" style="top:296.63px;font-size:15.6px;font-weight:bold;left:6.20px;transform:scaleX(0.7489);transform-origin:0 0;">HIKER</div>
<div class="t rg" style="top:296.43px;font-size:15.6px;left:92.50px;width:400px;text-align:center;transform:scaleX(0.7313);transform-origin:50% 0;">183 <svg class="x" viewBox="0 0 10 7" preserveAspectRatio="none"><path d="M0.7 0.5L9.3 6.5M9.3 0.5L0.7 6.5" stroke="currentColor" stroke-width="1.25" fill="none"/></svg> 51 <svg class="x" viewBox="0 0 10 7" preserveAspectRatio="none"><path d="M0.7 0.5L9.3 6.5M9.3 0.5L0.7 6.5" stroke="currentColor" stroke-width="1.25" fill="none"/></svg> 2,5</div>
<div class="t rg" style="top:296.43px;font-size:15.6px;left:221.50px;width:400px;text-align:center;transform:scaleX(0.7714);transform-origin:50% 0;">740</div>
<div class="t rg" style="top:296.43px;font-size:15.6px;left:361.50px;width:400px;text-align:center;transform:scaleX(0.7313);transform-origin:50% 0;">13 <svg class="x" viewBox="0 0 10 7" preserveAspectRatio="none"><path d="M0.7 0.5L9.3 6.5M9.3 0.5L0.7 6.5" stroke="currentColor" stroke-width="1.25" fill="none"/></svg> 26</div>
<div class="t rg" style="top:296.43px;font-size:15.6px;left:524.00px;width:400px;text-align:center;transform:scaleX(0.7176);transform-origin:50% 0;">MICRO BRUSHED</div>
<div class="t rg" style="top:296.43px;font-size:15.6px;left:687.25px;width:400px;text-align:center;transform:scaleX(0.7303);transform-origin:50% 0;">ANO</div>
<div class="t rg" style="top:296.43px;font-size:15.6px;left:850.75px;width:400px;text-align:center;transform:scaleX(0.7714);transform-origin:50% 0;">3,2</div>
<div class="t bd" style="top:320.25px;font-size:15.6px;font-weight:bold;left:6.20px;transform:scaleX(0.7723);transform-origin:0 0;">WOMEN´S HIKER</div>
<div class="t rg" style="top:320.05px;font-size:15.6px;left:92.50px;width:400px;text-align:center;transform:scaleX(0.7313);transform-origin:50% 0;">168 <svg class="x" viewBox="0 0 10 7" preserveAspectRatio="none"><path d="M0.7 0.5L9.3 6.5M9.3 0.5L0.7 6.5" stroke="currentColor" stroke-width="1.25" fill="none"/></svg> 51 <svg class="x" viewBox="0 0 10 7" preserveAspectRatio="none"><path d="M0.7 0.5L9.3 6.5M9.3 0.5L0.7 6.5" stroke="currentColor" stroke-width="1.25" fill="none"/></svg> 2,5</div>
<div class="t rg" style="top:320.05px;font-size:15.6px;left:221.50px;width:400px;text-align:center;transform:scaleX(0.7714);transform-origin:50% 0;">670</div>
<div class="t rg" style="top:320.05px;font-size:15.6px;left:361.50px;width:400px;text-align:center;transform:scaleX(0.7313);transform-origin:50% 0;">11 <svg class="x" viewBox="0 0 10 7" preserveAspectRatio="none"><path d="M0.7 0.5L9.3 6.5M9.3 0.5L0.7 6.5" stroke="currentColor" stroke-width="1.25" fill="none"/></svg> 26</div>
<div class="t rg" style="top:320.05px;font-size:15.6px;left:524.00px;width:400px;text-align:center;transform:scaleX(0.7176);transform-origin:50% 0;">MICRO BRUSHED</div>
<div class="t rg" style="top:320.05px;font-size:15.6px;left:687.25px;width:400px;text-align:center;transform:scaleX(0.7303);transform-origin:50% 0;">ANO</div>
<div class="t rg" style="top:320.05px;font-size:15.6px;left:850.75px;width:400px;text-align:center;transform:scaleX(0.7714);transform-origin:50% 0;">3,2</div>
<div class="t bd" style="top:343.87px;font-size:15.6px;font-weight:bold;left:6.20px;transform:scaleX(0.7559);transform-origin:0 0;">EXTREM LITE KT</div>
<div class="t rg" style="top:343.67px;font-size:15.6px;left:92.50px;width:400px;text-align:center;transform:scaleX(0.7313);transform-origin:50% 0;">122 <svg class="x" viewBox="0 0 10 7" preserveAspectRatio="none"><path d="M0.7 0.5L9.3 6.5M9.3 0.5L0.7 6.5" stroke="currentColor" stroke-width="1.25" fill="none"/></svg> 51 <svg class="x" viewBox="0 0 10 7" preserveAspectRatio="none"><path d="M0.7 0.5L9.3 6.5M9.3 0.5L0.7 6.5" stroke="currentColor" stroke-width="1.25" fill="none"/></svg> 3,8</div>
<div class="t rg" style="top:343.67px;font-size:15.6px;left:221.50px;width:400px;text-align:center;transform:scaleX(0.7714);transform-origin:50% 0;">520</div>
<div class="t rg" style="top:343.67px;font-size:15.6px;left:361.50px;width:400px;text-align:center;transform:scaleX(0.7313);transform-origin:50% 0;">7 <svg class="x" viewBox="0 0 10 7" preserveAspectRatio="none"><path d="M0.7 0.5L9.3 6.5M9.3 0.5L0.7 6.5" stroke="currentColor" stroke-width="1.25" fill="none"/></svg> 26</div>
<div class="t rg" style="top:343.67px;font-size:15.6px;left:524.00px;width:400px;text-align:center;transform:scaleX(0.7176);transform-origin:50% 0;">MICRO BRUSHED</div>
<div class="t rg" style="top:343.67px;font-size:15.6px;left:687.25px;width:400px;text-align:center;transform:scaleX(0.7303);transform-origin:50% 0;">ANO</div>
<div class="t rg" style="top:343.67px;font-size:15.6px;left:850.75px;width:400px;text-align:center;transform:scaleX(0.7714);transform-origin:50% 0;">4,0</div>
<div class="t bd" style="top:367.49px;font-size:15.6px;font-weight:bold;left:6.20px;transform:scaleX(0.7641);transform-origin:0 0;">EXTREM LITE 2,5</div>
<svg class="wz" style="left:107.50px;top:367.70px" viewBox="0 0 12.5 12.3"><rect width="12.5" height="12.3" fill="#f7691c"/><path d="M2.7 3.1L3.9 9.5L5.3 4.9L6.7 9.5L7.9 3.1M8.7 3.5H10.7L8.8 9.2H10.8" fill="none" stroke="#ffe8d4" stroke-width="1.25" stroke-linejoin="miter"/></svg>
<div class="t rg" style="top:367.29px;font-size:15.6px;left:92.50px;width:400px;text-align:center;transform:scaleX(0.7313);transform-origin:50% 0;">183 <svg class="x" viewBox="0 0 10 7" preserveAspectRatio="none"><path d="M0.7 0.5L9.3 6.5M9.3 0.5L0.7 6.5" stroke="currentColor" stroke-width="1.25" fill="none"/></svg> 51 <svg class="x" viewBox="0 0 10 7" preserveAspectRatio="none"><path d="M0.7 0.5L9.3 6.5M9.3 0.5L0.7 6.5" stroke="currentColor" stroke-width="1.25" fill="none"/></svg> 2,5</div>
<div class="t rg" style="top:367.29px;font-size:15.6px;left:221.50px;width:400px;text-align:center;transform:scaleX(0.7714);transform-origin:50% 0;">610</div>
<div class="t rg" style="top:367.29px;font-size:15.6px;left:361.50px;width:400px;text-align:center;transform:scaleX(0.7313);transform-origin:50% 0;">12 <svg class="x" viewBox="0 0 10 7" preserveAspectRatio="none"><path d="M0.7 0.5L9.3 6.5M9.3 0.5L0.7 6.5" stroke="currentColor" stroke-width="1.25" fill="none"/></svg> 26</div>
<div class="t rg" style="top:367.29px;font-size:15.6px;left:524.00px;width:400px;text-align:center;transform:scaleX(0.7176);transform-origin:50% 0;">MICRO BRUSHED</div>
<div class="t rg" style="top:367.29px;font-size:15.6px;left:687.25px;width:400px;text-align:center;transform:scaleX(0.7364);transform-origin:50% 0;">ANO + WARMZONE</div>
<div class="t rg" style="top:367.29px;font-size:15.6px;left:850.75px;width:400px;text-align:center;transform:scaleX(0.7714);transform-origin:50% 0;">3,2</div>
<div class="t bd" style="top:391.11px;font-size:15.6px;font-weight:bold;left:6.20px;transform:scaleX(0.7641);transform-origin:0 0;">EXTREM LITE 3,8</div>
<svg class="wz" style="left:107.50px;top:391.32px" viewBox="0 0 12.5 12.3"><rect width="12.5" height="12.3" fill="#f7691c"/><path d="M2.7 3.1L3.9 9.5L5.3 4.9L6.7 9.5L7.9 3.1M8.7 3.5H10.7L8.8 9.2H10.8" fill="none" stroke="#ffe8d4" stroke-width="1.25" stroke-linejoin="miter"/></svg>
<div class="t rg" style="top:390.91px;font-size:15.6px;left:92.50px;width:400px;text-align:center;transform:scaleX(0.7181);transform-origin:50% 0;">183 <svg class="x" viewBox="0 0 10 7" preserveAspectRatio="none"><path d="M0.7 0.5L9.3 6.5M9.3 0.5L0.7 6.5" stroke="currentColor" stroke-width="1.25" fill="none"/></svg> 51 <svg class="x" viewBox="0 0 10 7" preserveAspectRatio="none"><path d="M0.7 0.5L9.3 6.5M9.3 0.5L0.7 6.5" stroke="currentColor" stroke-width="1.25" fill="none"/></svg> 3,8</div>
<div class="t rg" style="top:390.91px;font-size:15.6px;left:221.50px;width:400px;text-align:center;transform:scaleX(0.7714);transform-origin:50% 0;">730</div>
<div class="t rg" style="top:390.91px;font-size:15.6px;left:361.50px;width:400px;text-align:center;transform:scaleX(0.7444);transform-origin:50% 0;">14 <svg class="x" viewBox="0 0 10 7" preserveAspectRatio="none"><path d="M0.7 0.5L9.3 6.5M9.3 0.5L0.7 6.5" stroke="currentColor" stroke-width="1.25" fill="none"/></svg> 26</div>
<div class="t rg" style="top:390.91px;font-size:15.6px;left:524.00px;width:400px;text-align:center;transform:scaleX(0.7176);transform-origin:50% 0;">MICRO BRUSHED</div>
<div class="t rg" style="top:390.91px;font-size:15.6px;left:687.25px;width:400px;text-align:center;transform:scaleX(0.7364);transform-origin:50% 0;">ANO + WARMZONE</div>
<div class="t rg" style="top:390.91px;font-size:15.6px;left:850.75px;width:400px;text-align:center;transform:scaleX(0.7714);transform-origin:50% 0;">4,0</div>
<div class="t bd" style="top:414.73px;font-size:15.6px;font-weight:bold;left:6.20px;transform:scaleX(0.7114);transform-origin:0 0;">X – TUBE</div>
<svg class="wz" style="left:59.50px;top:414.94px" viewBox="0 0 12.5 12.3"><rect width="12.5" height="12.3" fill="#f7691c"/><path d="M2.7 3.1L3.9 9.5L5.3 4.9L6.7 9.5L7.9 3.1M8.7 3.5H10.7L8.8 9.2H10.8" fill="none" stroke="#ffe8d4" stroke-width="1.25" stroke-linejoin="miter"/></svg>
<div class="t rg" style="top:414.53px;font-size:15.6px;left:92.50px;width:400px;text-align:center;transform:scaleX(0.7313);transform-origin:50% 0;">183 <svg class="x" viewBox="0 0 10 7" preserveAspectRatio="none"><path d="M0.7 0.5L9.3 6.5M9.3 0.5L0.7 6.5" stroke="currentColor" stroke-width="1.25" fill="none"/></svg> 58 <svg class="x" viewBox="0 0 10 7" preserveAspectRatio="none"><path d="M0.7 0.5L9.3 6.5M9.3 0.5L0.7 6.5" stroke="currentColor" stroke-width="1.25" fill="none"/></svg> 3,8</div>
<div class="t rg" style="top:414.53px;font-size:15.6px;left:221.50px;width:400px;text-align:center;transform:scaleX(0.7714);transform-origin:50% 0;">760</div>
<div class="t rg" style="top:414.53px;font-size:15.6px;left:361.50px;width:400px;text-align:center;transform:scaleX(0.7313);transform-origin:50% 0;">14 <svg class="x" viewBox="0 0 10 7" preserveAspectRatio="none"><path d="M0.7 0.5L9.3 6.5M9.3 0.5L0.7 6.5" stroke="currentColor" stroke-width="1.25" fill="none"/></svg> 30</div>
<div class="t rg" style="top:414.53px;font-size:15.6px;left:524.00px;width:400px;text-align:center;transform:scaleX(0.6938);transform-origin:50% 0;">POLYESTER 75</div>
<div class="t rg" style="top:414.53px;font-size:15.6px;left:687.25px;width:400px;text-align:center;transform:scaleX(0.7303);transform-origin:50% 0;">ANO</div>
<div class="t rg" style="top:414.53px;font-size:15.6px;left:850.75px;width:400px;text-align:center;transform:scaleX(0.7714);transform-origin:50% 0;">4,0</div>
<div class="t bd" style="top:438.35px;font-size:15.6px;font-weight:bold;left:6.20px;transform:scaleX(0.7333);transform-origin:0 0;">COMFORT</div>
<div class="t rg" style="top:438.15px;font-size:15.6px;left:92.50px;width:400px;text-align:center;transform:scaleX(0.7313);transform-origin:50% 0;">198 <svg class="x" viewBox="0 0 10 7" preserveAspectRatio="none"><path d="M0.7 0.5L9.3 6.5M9.3 0.5L0.7 6.5" stroke="currentColor" stroke-width="1.25" fill="none"/></svg> 66 <svg class="x" viewBox="0 0 10 7" preserveAspectRatio="none"><path d="M0.7 0.5L9.3 6.5M9.3 0.5L0.7 6.5" stroke="currentColor" stroke-width="1.25" fill="none"/></svg> 5,0</div>
<div class="t rg" style="top:438.15px;font-size:15.6px;left:221.50px;width:400px;text-align:center;transform:scaleX(0.7714);transform-origin:50% 0;">1500</div>
<div class="t rg" style="top:438.15px;font-size:15.6px;left:361.50px;width:400px;text-align:center;transform:scaleX(0.7313);transform-origin:50% 0;">18 <svg class="x" viewBox="0 0 10 7" preserveAspectRatio="none"><path d="M0.7 0.5L9.3 6.5M9.3 0.5L0.7 6.5" stroke="currentColor" stroke-width="1.25" fill="none"/></svg> 66</div>
<div class="t rg" style="top:438.15px;font-size:15.6px;left:524.00px;width:400px;text-align:center;transform:scaleX(0.7047);transform-origin:50% 0;">YATE STRETCH 50D</div>
<div class="t rg" style="top:438.15px;font-size:15.6px;left:687.25px;width:400px;text-align:center;transform:scaleX(0.7303);transform-origin:50% 0;">ANO</div>
<div class="t rg" style="top:438.15px;font-size:15.6px;left:850.75px;width:400px;text-align:center;transform:scaleX(0.7714);transform-origin:50% 0;">5,3</div>
<div class="t bd" style="top:461.97px;font-size:15.6px;font-weight:bold;left:6.20px;transform:scaleX(0.7653);transform-origin:0 0;">CAMPING</div>
<div class="t rg" style="top:461.77px;font-size:15.6px;left:92.50px;width:400px;text-align:center;transform:scaleX(0.7313);transform-origin:50% 0;">198 <svg class="x" viewBox="0 0 10 7" preserveAspectRatio="none"><path d="M0.7 0.5L9.3 6.5M9.3 0.5L0.7 6.5" stroke="currentColor" stroke-width="1.25" fill="none"/></svg> 66 <svg class="x" viewBox="0 0 10 7" preserveAspectRatio="none"><path d="M0.7 0.5L9.3 6.5M9.3 0.5L0.7 6.5" stroke="currentColor" stroke-width="1.25" fill="none"/></svg> 7,5</div>
<div class="t rg" style="top:461.77px;font-size:15.6px;left:221.50px;width:400px;text-align:center;transform:scaleX(0.7714);transform-origin:50% 0;">1780</div>
<div class="t rg" style="top:461.77px;font-size:15.6px;left:361.50px;width:400px;text-align:center;transform:scaleX(0.7313);transform-origin:50% 0;">20 <svg class="x" viewBox="0 0 10 7" preserveAspectRatio="none"><path d="M0.7 0.5L9.3 6.5M9.3 0.5L0.7 6.5" stroke="currentColor" stroke-width="1.25" fill="none"/></svg> 66</div>
<div class="t rg" style="top:461.77px;font-size:15.6px;left:524.00px;width:400px;text-align:center;transform:scaleX(0.6877);transform-origin:50% 0;">YATE STRETCH</div>
<div class="t rg" style="top:461.77px;font-size:15.6px;left:687.25px;width:400px;text-align:center;transform:scaleX(0.7303);transform-origin:50% 0;">ANO</div>
<div class="t rg" style="top:461.77px;font-size:15.6px;left:850.75px;width:400px;text-align:center;transform:scaleX(0.7714);transform-origin:50% 0;">8,5</div>
<div class="t bd" style="top:485.59px;font-size:15.6px;font-weight:bold;left:6.20px;transform:scaleX(0.7629);transform-origin:0 0;">CALIMAN</div>
<div class="t rg" style="top:485.39px;font-size:15.6px;left:92.50px;width:400px;text-align:center;transform:scaleX(0.7313);transform-origin:50% 0;">182 <svg class="x" viewBox="0 0 10 7" preserveAspectRatio="none"><path d="M0.7 0.5L9.3 6.5M9.3 0.5L0.7 6.5" stroke="currentColor" stroke-width="1.25" fill="none"/></svg> 51 <svg class="x" viewBox="0 0 10 7" preserveAspectRatio="none"><path d="M0.7 0.5L9.3 6.5M9.3 0.5L0.7 6.5" stroke="currentColor" stroke-width="1.25" fill="none"/></svg> 3,5</div>
<div class="t rg" style="top:485.39px;font-size:15.6px;left:221.50px;width:400px;text-align:center;transform:scaleX(0.7714);transform-origin:50% 0;">950</div>
<div class="t rg" style="top:485.39px;font-size:15.6px;left:361.50px;width:400px;text-align:center;transform:scaleX(0.7313);transform-origin:50% 0;">13 <svg class="x" viewBox="0 0 10 7" preserveAspectRatio="none"><path d="M0.7 0.5L9.3 6.5M9.3 0.5L0.7 6.5" stroke="currentColor" stroke-width="1.25" fill="none"/></svg> 26</div>
<div class="t rg" style="top:485.39px;font-size:15.6px;left:524.00px;width:400px;text-align:center;transform:scaleX(0.6938);transform-origin:50% 0;">POLYESTER 75</div>
<div class="t rg" style="top:485.39px;font-size:15.6px;left:687.25px;width:400px;text-align:center;transform:scaleX(0.7303);transform-origin:50% 0;">ANO</div>
<div class="t rg" style="top:485.39px;font-size:15.6px;left:850.75px;width:400px;text-align:center;transform:scaleX(0.7714);transform-origin:50% 0;">3,8</div>
<div class="t bd" style="top:509.21px;font-size:15.6px;font-weight:bold;left:6.20px;transform:scaleX(0.7405);transform-origin:0 0;">BUŘTOVKA S IZOLACÍ</div>
<div class="t rg" style="top:509.01px;font-size:15.6px;left:92.50px;width:400px;text-align:center;transform:scaleX(0.7313);transform-origin:50% 0;">183 <svg class="x" viewBox="0 0 10 7" preserveAspectRatio="none"><path d="M0.7 0.5L9.3 6.5M9.3 0.5L0.7 6.5" stroke="currentColor" stroke-width="1.25" fill="none"/></svg> 50 <svg class="x" viewBox="0 0 10 7" preserveAspectRatio="none"><path d="M0.7 0.5L9.3 6.5M9.3 0.5L0.7 6.5" stroke="currentColor" stroke-width="1.25" fill="none"/></svg> 7,0</div>
<div class="t rg" style="top:509.01px;font-size:15.6px;left:221.50px;width:400px;text-align:center;transform:scaleX(0.7714);transform-origin:50% 0;">520</div>
<div class="t rg" style="top:509.01px;font-size:15.6px;left:361.50px;width:400px;text-align:center;transform:scaleX(0.7444);transform-origin:50% 0;">14 <svg class="x" viewBox="0 0 10 7" preserveAspectRatio="none"><path d="M0.7 0.5L9.3 6.5M9.3 0.5L0.7 6.5" stroke="currentColor" stroke-width="1.25" fill="none"/></svg> 26</div>
<div class="t rg" style="top:509.01px;font-size:15.6px;left:524.00px;width:400px;text-align:center;transform:scaleX(0.6938);transform-origin:50% 0;">POLYESTER 75</div>
<div class="t rg" style="top:509.01px;font-size:15.6px;left:850.75px;width:400px;text-align:center;transform:scaleX(0.7714);transform-origin:50% 0;">3,1</div>
<div class="t bd" style="top:532.83px;font-size:15.6px;font-weight:bold;left:6.20px;transform:scaleX(0.7299);transform-origin:0 0;">BUŘTOVKA</div>
<div class="t rg" style="top:532.63px;font-size:15.6px;left:92.50px;width:400px;text-align:center;transform:scaleX(0.7313);transform-origin:50% 0;">183 <svg class="x" viewBox="0 0 10 7" preserveAspectRatio="none"><path d="M0.7 0.5L9.3 6.5M9.3 0.5L0.7 6.5" stroke="currentColor" stroke-width="1.25" fill="none"/></svg> 50 <svg class="x" viewBox="0 0 10 7" preserveAspectRatio="none"><path d="M0.7 0.5L9.3 6.5M9.3 0.5L0.7 6.5" stroke="currentColor" stroke-width="1.25" fill="none"/></svg> 7,0</div>
<div class="t rg" style="top:532.63px;font-size:15.6px;left:221.50px;width:400px;text-align:center;transform:scaleX(0.7714);transform-origin:50% 0;">500</div>
<div class="t rg" style="top:532.63px;font-size:15.6px;left:361.50px;width:400px;text-align:center;transform:scaleX(0.7313);transform-origin:50% 0;">12 <svg class="x" viewBox="0 0 10 7" preserveAspectRatio="none"><path d="M0.7 0.5L9.3 6.5M9.3 0.5L0.7 6.5" stroke="currentColor" stroke-width="1.25" fill="none"/></svg> 26</div>
<div class="t rg" style="top:532.63px;font-size:15.6px;left:524.00px;width:400px;text-align:center;transform:scaleX(0.6938);transform-origin:50% 0;">POLYESTER 75</div>
<div class="t rg" style="top:532.63px;font-size:15.6px;left:850.75px;width:400px;text-align:center;transform:scaleX(0.7714);transform-origin:50% 0;">2,4</div>
<div class="t bd" style="top:556.45px;font-size:15.6px;font-weight:bold;left:6.20px;transform:scaleX(0.7514);transform-origin:0 0;">BUŘTOVKA S PUMPOU</div>
<div class="t rg" style="top:556.25px;font-size:15.6px;left:92.50px;width:400px;text-align:center;transform:scaleX(0.7313);transform-origin:50% 0;">183 <svg class="x" viewBox="0 0 10 7" preserveAspectRatio="none"><path d="M0.7 0.5L9.3 6.5M9.3 0.5L0.7 6.5" stroke="currentColor" stroke-width="1.25" fill="none"/></svg> 50 <svg class="x" viewBox="0 0 10 7" preserveAspectRatio="none"><path d="M0.7 0.5L9.3 6.5M9.3 0.5L0.7 6.5" stroke="currentColor" stroke-width="1.25" fill="none"/></svg> 7,0</div>
<div class="t rg" style="top:556.25px;font-size:15.6px;left:221.50px;width:400px;text-align:center;transform:scaleX(0.7714);transform-origin:50% 0;">520</div>
<div class="t rg" style="top:556.25px;font-size:15.6px;left:361.50px;width:400px;text-align:center;transform:scaleX(0.7444);transform-origin:50% 0;">14 <svg class="x" viewBox="0 0 10 7" preserveAspectRatio="none"><path d="M0.7 0.5L9.3 6.5M9.3 0.5L0.7 6.5" stroke="currentColor" stroke-width="1.25" fill="none"/></svg> 26</div>
<div class="t rg" style="top:556.25px;font-size:15.6px;left:524.00px;width:400px;text-align:center;transform:scaleX(0.6938);transform-origin:50% 0;">POLYESTER 75</div>
<div class="t rg" style="top:556.25px;font-size:15.6px;left:850.75px;width:400px;text-align:center;transform:scaleX(0.7714);transform-origin:50% 0;">2,4</div>
<div class="t bd" style="top:580.07px;font-size:15.6px;font-weight:bold;left:6.20px;transform:scaleX(0.7296);transform-origin:0 0;">SCOUT</div>
<div class="t rg" style="top:579.87px;font-size:15.6px;left:92.50px;width:400px;text-align:center;transform:scaleX(0.7313);transform-origin:50% 0;">185 <svg class="x" viewBox="0 0 10 7" preserveAspectRatio="none"><path d="M0.7 0.5L9.3 6.5M9.3 0.5L0.7 6.5" stroke="currentColor" stroke-width="1.25" fill="none"/></svg> 55 <svg class="x" viewBox="0 0 10 7" preserveAspectRatio="none"><path d="M0.7 0.5L9.3 6.5M9.3 0.5L0.7 6.5" stroke="currentColor" stroke-width="1.25" fill="none"/></svg> 5,5</div>
<div class="t rg" style="top:579.87px;font-size:15.6px;left:221.50px;width:400px;text-align:center;transform:scaleX(0.7714);transform-origin:50% 0;">400</div>
<div class="t rg" style="top:579.87px;font-size:15.6px;left:361.50px;width:400px;text-align:center;transform:scaleX(0.7313);transform-origin:50% 0;">8 <svg class="x" viewBox="0 0 10 7" preserveAspectRatio="none"><path d="M0.7 0.5L9.3 6.5M9.3 0.5L0.7 6.5" stroke="currentColor" stroke-width="1.25" fill="none"/></svg> 21</div>
<div class="t rg" style="top:579.87px;font-size:15.6px;left:524.00px;width:400px;text-align:center;transform:scaleX(0.7376);transform-origin:50% 0;">NYLON 20D</div>
<div class="t rg" style="top:579.87px;font-size:15.6px;left:850.75px;width:400px;text-align:center;transform:scaleX(0.6350);transform-origin:50% 0;">1,2</div>
<div class="t bd" style="top:603.69px;font-size:15.6px;font-weight:bold;left:6.20px;transform:scaleX(0.7534);transform-origin:0 0;">NOMAD</div>
<div class="t rg" style="top:603.49px;font-size:15.6px;left:92.50px;width:400px;text-align:center;transform:scaleX(0.7467);transform-origin:50% 0;">193 <svg class="x" viewBox="0 0 10 7" preserveAspectRatio="none"><path d="M0.7 0.5L9.3 6.5M9.3 0.5L0.7 6.5" stroke="currentColor" stroke-width="1.25" fill="none"/></svg> 58 <svg class="x" viewBox="0 0 10 7" preserveAspectRatio="none"><path d="M0.7 0.5L9.3 6.5M9.3 0.5L0.7 6.5" stroke="currentColor" stroke-width="1.25" fill="none"/></svg> 9</div>
<div class="t rg" style="top:603.49px;font-size:15.6px;left:221.50px;width:400px;text-align:center;transform:scaleX(0.8280);transform-origin:50% 0;">590</div>
<div class="t rg" style="top:603.49px;font-size:15.6px;left:361.50px;width:400px;text-align:center;transform:scaleX(0.7313);transform-origin:50% 0;">10 <svg class="x" viewBox="0 0 10 7" preserveAspectRatio="none"><path d="M0.7 0.5L9.3 6.5M9.3 0.5L0.7 6.5" stroke="currentColor" stroke-width="1.25" fill="none"/></svg> 30</div>
<div class="t rg" style="top:603.49px;font-size:15.6px;left:524.00px;width:400px;text-align:center;transform:scaleX(0.7376);transform-origin:50% 0;">NYLON 20D</div>
<div class="t rg" style="top:603.49px;font-size:15.6px;left:850.75px;width:400px;text-align:center;transform:scaleX(0.6350);transform-origin:50% 0;">2,1</div>
<div class="t bd" style="top:627.31px;font-size:15.6px;font-weight:bold;left:6.20px;transform:scaleX(0.7092);transform-origin:0 0;">VOYAGER</div>
<div class="t rg" style="top:627.11px;font-size:15.6px;left:92.50px;width:400px;text-align:center;transform:scaleX(0.7522);transform-origin:50% 0;">195 <svg class="x" viewBox="0 0 10 7" preserveAspectRatio="none"><path d="M0.7 0.5L9.3 6.5M9.3 0.5L0.7 6.5" stroke="currentColor" stroke-width="1.25" fill="none"/></svg> 66 <svg class="x" viewBox="0 0 10 7" preserveAspectRatio="none"><path d="M0.7 0.5L9.3 6.5M9.3 0.5L0.7 6.5" stroke="currentColor" stroke-width="1.25" fill="none"/></svg> 9</div>
<div class="t rg" style="top:627.11px;font-size:15.6px;left:221.50px;width:400px;text-align:center;transform:scaleX(0.7182);transform-origin:50% 0;">1250</div>
<div class="t rg" style="top:627.11px;font-size:15.6px;left:361.50px;width:400px;text-align:center;transform:scaleX(0.7313);transform-origin:50% 0;">14 <svg class="x" viewBox="0 0 10 7" preserveAspectRatio="none"><path d="M0.7 0.5L9.3 6.5M9.3 0.5L0.7 6.5" stroke="currentColor" stroke-width="1.25" fill="none"/></svg> 30</div>
<div class="t rg" style="top:627.11px;font-size:15.6px;left:524.00px;width:400px;text-align:center;transform:scaleX(0.7376);transform-origin:50% 0;">NYLON 20D</div>
<div class="t rg" style="top:627.11px;font-size:15.6px;left:850.75px;width:400px;text-align:center;transform:scaleX(0.7750);transform-origin:50% 0;">3,3</div>
<div class="t bd" style="top:650.93px;font-size:15.6px;font-weight:bold;left:6.20px;transform:scaleX(0.7744);transform-origin:0 0;">EVA 10 mm</div>
<div class="t rg" style="top:650.73px;font-size:15.6px;left:92.50px;width:400px;text-align:center;transform:scaleX(0.7313);transform-origin:50% 0;">190 <svg class="x" viewBox="0 0 10 7" preserveAspectRatio="none"><path d="M0.7 0.5L9.3 6.5M9.3 0.5L0.7 6.5" stroke="currentColor" stroke-width="1.25" fill="none"/></svg> 50 <svg class="x" viewBox="0 0 10 7" preserveAspectRatio="none"><path d="M0.7 0.5L9.3 6.5M9.3 0.5L0.7 6.5" stroke="currentColor" stroke-width="1.25" fill="none"/></svg> 1,0</div>
<div class="t rg" style="top:650.73px;font-size:15.6px;left:221.50px;width:400px;text-align:center;transform:scaleX(0.7714);transform-origin:50% 0;">250</div>
<div class="t rg" style="top:650.73px;font-size:15.6px;left:361.50px;width:400px;text-align:center;transform:scaleX(0.7313);transform-origin:50% 0;">15 <svg class="x" viewBox="0 0 10 7" preserveAspectRatio="none"><path d="M0.7 0.5L9.3 6.5M9.3 0.5L0.7 6.5" stroke="currentColor" stroke-width="1.25" fill="none"/></svg> 50</div>
<div class="t rg" style="top:650.73px;font-size:15.6px;left:524.00px;width:400px;text-align:center;transform:scaleX(0.7207);transform-origin:50% 0;">EVA</div>
<div class="t rg" style="top:650.73px;font-size:15.6px;left:850.75px;width:400px;text-align:center;transform:scaleX(0.6650);transform-origin:50% 0;">1,5</div>
<div class="t bd" style="top:674.55px;font-size:15.6px;font-weight:bold;left:6.20px;transform:scaleX(0.7683);transform-origin:0 0;">EVA 14 mm</div>
<div class="t rg" style="top:674.35px;font-size:15.6px;left:92.50px;width:400px;text-align:center;transform:scaleX(0.7313);transform-origin:50% 0;">190 <svg class="x" viewBox="0 0 10 7" preserveAspectRatio="none"><path d="M0.7 0.5L9.3 6.5M9.3 0.5L0.7 6.5" stroke="currentColor" stroke-width="1.25" fill="none"/></svg> 50 <svg class="x" viewBox="0 0 10 7" preserveAspectRatio="none"><path d="M0.7 0.5L9.3 6.5M9.3 0.5L0.7 6.5" stroke="currentColor" stroke-width="1.25" fill="none"/></svg> 1,4</div>
<div class="t rg" style="top:674.35px;font-size:15.6px;left:221.50px;width:400px;text-align:center;transform:scaleX(0.7714);transform-origin:50% 0;">380</div>
<div class="t rg" style="top:674.35px;font-size:15.6px;left:361.50px;width:400px;text-align:center;transform:scaleX(0.7313);transform-origin:50% 0;">20 <svg class="x" viewBox="0 0 10 7" preserveAspectRatio="none"><path d="M0.7 0.5L9.3 6.5M9.3 0.5L0.7 6.5" stroke="currentColor" stroke-width="1.25" fill="none"/></svg> 50</div>
<div class="t rg" style="top:674.35px;font-size:15.6px;left:524.00px;width:400px;text-align:center;transform:scaleX(0.7207);transform-origin:50% 0;">EVA</div>
<div class="t rg" style="top:674.35px;font-size:15.6px;left:850.75px;width:400px;text-align:center;transform:scaleX(0.7714);transform-origin:50% 0;">2,0</div>
<div class="t bd" style="top:698.17px;font-size:15.6px;font-weight:bold;left:6.20px;transform:scaleX(0.8000);transform-origin:0 0;">EVA 10 mm / 60 cm</div>
<div class="t rg" style="top:697.97px;font-size:15.6px;left:92.50px;width:400px;text-align:center;transform:scaleX(0.7313);transform-origin:50% 0;">190 <svg class="x" viewBox="0 0 10 7" preserveAspectRatio="none"><path d="M0.7 0.5L9.3 6.5M9.3 0.5L0.7 6.5" stroke="currentColor" stroke-width="1.25" fill="none"/></svg> 60 <svg class="x" viewBox="0 0 10 7" preserveAspectRatio="none"><path d="M0.7 0.5L9.3 6.5M9.3 0.5L0.7 6.5" stroke="currentColor" stroke-width="1.25" fill="none"/></svg> 1,0</div>
<div class="t rg" style="top:697.97px;font-size:15.6px;left:221.50px;width:400px;text-align:center;transform:scaleX(0.7714);transform-origin:50% 0;">250</div>
<div class="t rg" style="top:697.97px;font-size:15.6px;left:361.50px;width:400px;text-align:center;transform:scaleX(0.7313);transform-origin:50% 0;">15 <svg class="x" viewBox="0 0 10 7" preserveAspectRatio="none"><path d="M0.7 0.5L9.3 6.5M9.3 0.5L0.7 6.5" stroke="currentColor" stroke-width="1.25" fill="none"/></svg> 60</div>
<div class="t rg" style="top:697.97px;font-size:15.6px;left:524.00px;width:400px;text-align:center;transform:scaleX(0.7207);transform-origin:50% 0;">EVA</div>
<div class="t rg" style="top:697.97px;font-size:15.6px;left:850.75px;width:400px;text-align:center;transform:scaleX(0.6650);transform-origin:50% 0;">1,5</div>
<div class="t bd" style="top:721.79px;font-size:15.6px;font-weight:bold;left:6.20px;transform:scaleX(0.8000);transform-origin:0 0;">EVA 14 mm / 60 cm</div>
<div class="t rg" style="top:721.59px;font-size:15.6px;left:92.50px;width:400px;text-align:center;transform:scaleX(0.7313);transform-origin:50% 0;">190 <svg class="x" viewBox="0 0 10 7" preserveAspectRatio="none"><path d="M0.7 0.5L9.3 6.5M9.3 0.5L0.7 6.5" stroke="currentColor" stroke-width="1.25" fill="none"/></svg> 60 <svg class="x" viewBox="0 0 10 7" preserveAspectRatio="none"><path d="M0.7 0.5L9.3 6.5M9.3 0.5L0.7 6.5" stroke="currentColor" stroke-width="1.25" fill="none"/></svg> 1,4</div>
<div class="t rg" style="top:721.59px;font-size:15.6px;left:221.50px;width:400px;text-align:center;transform:scaleX(0.7714);transform-origin:50% 0;">380</div>
<div class="t rg" style="top:721.59px;font-size:15.6px;left:361.50px;width:400px;text-align:center;transform:scaleX(0.7313);transform-origin:50% 0;">20 <svg class="x" viewBox="0 0 10 7" preserveAspectRatio="none"><path d="M0.7 0.5L9.3 6.5M9.3 0.5L0.7 6.5" stroke="currentColor" stroke-width="1.25" fill="none"/></svg> 60</div>
<div class="t rg" style="top:721.59px;font-size:15.6px;left:524.00px;width:400px;text-align:center;transform:scaleX(0.7207);transform-origin:50% 0;">EVA</div>
<div class="t rg" style="top:721.59px;font-size:15.6px;left:850.75px;width:400px;text-align:center;transform:scaleX(0.7714);transform-origin:50% 0;">2,0</div>
<div class="t bd" style="top:745.41px;font-size:15.6px;font-weight:bold;left:6.20px;transform:scaleX(0.7463);transform-origin:0 0;">WAVE ALU</div>
<div class="t rg" style="top:745.21px;font-size:15.6px;left:92.50px;width:400px;text-align:center;transform:scaleX(0.7181);transform-origin:50% 0;">185 <svg class="x" viewBox="0 0 10 7" preserveAspectRatio="none"><path d="M0.7 0.5L9.3 6.5M9.3 0.5L0.7 6.5" stroke="currentColor" stroke-width="1.25" fill="none"/></svg> 56 <svg class="x" viewBox="0 0 10 7" preserveAspectRatio="none"><path d="M0.7 0.5L9.3 6.5M9.3 0.5L0.7 6.5" stroke="currentColor" stroke-width="1.25" fill="none"/></svg> 1,8</div>
<div class="t rg" style="top:745.21px;font-size:15.6px;left:221.50px;width:400px;text-align:center;transform:scaleX(0.7731);transform-origin:50% 0;">420</div>
<div class="t rg" style="top:745.21px;font-size:15.6px;left:361.50px;width:400px;text-align:center;transform:scaleX(0.7163);transform-origin:50% 0;">56 <svg class="x" viewBox="0 0 10 7" preserveAspectRatio="none"><path d="M0.7 0.5L9.3 6.5M9.3 0.5L0.7 6.5" stroke="currentColor" stroke-width="1.25" fill="none"/></svg> 16 <svg class="x" viewBox="0 0 10 7" preserveAspectRatio="none"><path d="M0.7 0.5L9.3 6.5M9.3 0.5L0.7 6.5" stroke="currentColor" stroke-width="1.25" fill="none"/></svg> 13</div>
<div class="t rg" style="top:745.21px;font-size:15.6px;left:524.00px;width:400px;text-align:center;transform:scaleX(0.8072);transform-origin:50% 0;">PE + Al fólie</div>
<div class="t rg" style="top:745.21px;font-size:15.6px;left:850.75px;width:400px;text-align:center;transform:scaleX(0.7714);transform-origin:50% 0;">2,2</div>
<div class="t bd" style="top:769.03px;font-size:15.6px;font-weight:bold;left:6.20px;transform:scaleX(0.7545);transform-origin:0 0;">WAVE</div>
<div class="t rg" style="top:768.83px;font-size:15.6px;left:92.50px;width:400px;text-align:center;transform:scaleX(0.7313);transform-origin:50% 0;">185 <svg class="x" viewBox="0 0 10 7" preserveAspectRatio="none"><path d="M0.7 0.5L9.3 6.5M9.3 0.5L0.7 6.5" stroke="currentColor" stroke-width="1.25" fill="none"/></svg> 57 <svg class="x" viewBox="0 0 10 7" preserveAspectRatio="none"><path d="M0.7 0.5L9.3 6.5M9.3 0.5L0.7 6.5" stroke="currentColor" stroke-width="1.25" fill="none"/></svg> 1,5</div>
<div class="t rg" style="top:768.83px;font-size:15.6px;left:221.50px;width:400px;text-align:center;transform:scaleX(0.7714);transform-origin:50% 0;">410</div>
<div class="t rg" style="top:768.83px;font-size:15.6px;left:361.50px;width:400px;text-align:center;transform:scaleX(0.7313);transform-origin:50% 0;">57 <svg class="x" viewBox="0 0 10 7" preserveAspectRatio="none"><path d="M0.7 0.5L9.3 6.5M9.3 0.5L0.7 6.5" stroke="currentColor" stroke-width="1.25" fill="none"/></svg> 15 <svg class="x" viewBox="0 0 10 7" preserveAspectRatio="none"><path d="M0.7 0.5L9.3 6.5M9.3 0.5L0.7 6.5" stroke="currentColor" stroke-width="1.25" fill="none"/></svg> 11</div>
<div class="t rg" style="top:768.83px;font-size:15.6px;left:524.00px;width:400px;text-align:center;transform:scaleX(0.7263);transform-origin:50% 0;">PE</div>
<div class="t rg" style="top:768.83px;font-size:15.6px;left:850.75px;width:400px;text-align:center;transform:scaleX(0.7714);transform-origin:50% 0;">1,8</div>
<div class="t bd" style="top:792.65px;font-size:15.6px;font-weight:bold;left:6.20px;transform:scaleX(0.7714);transform-origin:0 0;">KARIMATKA PE 8 mm</div>
<div class="t rg" style="top:792.45px;font-size:15.6px;left:92.50px;width:400px;text-align:center;transform:scaleX(0.7313);transform-origin:50% 0;">180 <svg class="x" viewBox="0 0 10 7" preserveAspectRatio="none"><path d="M0.7 0.5L9.3 6.5M9.3 0.5L0.7 6.5" stroke="currentColor" stroke-width="1.25" fill="none"/></svg> 50 <svg class="x" viewBox="0 0 10 7" preserveAspectRatio="none"><path d="M0.7 0.5L9.3 6.5M9.3 0.5L0.7 6.5" stroke="currentColor" stroke-width="1.25" fill="none"/></svg> 0,8</div>
<div class="t rg" style="top:792.45px;font-size:15.6px;left:221.50px;width:400px;text-align:center;transform:scaleX(0.7714);transform-origin:50% 0;">210</div>
<div class="t rg" style="top:792.45px;font-size:15.6px;left:361.50px;width:400px;text-align:center;transform:scaleX(0.7313);transform-origin:50% 0;">15 <svg class="x" viewBox="0 0 10 7" preserveAspectRatio="none"><path d="M0.7 0.5L9.3 6.5M9.3 0.5L0.7 6.5" stroke="currentColor" stroke-width="1.25" fill="none"/></svg> 50</div>
<div class="t rg" style="top:792.45px;font-size:15.6px;left:524.00px;width:400px;text-align:center;transform:scaleX(0.7263);transform-origin:50% 0;">PE</div>
<div class="t rg" style="top:792.45px;font-size:15.6px;left:850.75px;width:400px;text-align:center;transform:scaleX(0.6350);transform-origin:50% 0;">1,2</div>
<div class="t bd" style="top:816.27px;font-size:15.6px;font-weight:bold;left:6.20px;transform:scaleX(0.7588);transform-origin:0 0;">KARIMATKA PE 10 mm</div>
<div class="t rg" style="top:816.07px;font-size:15.6px;left:92.50px;width:400px;text-align:center;transform:scaleX(0.7313);transform-origin:50% 0;">180 <svg class="x" viewBox="0 0 10 7" preserveAspectRatio="none"><path d="M0.7 0.5L9.3 6.5M9.3 0.5L0.7 6.5" stroke="currentColor" stroke-width="1.25" fill="none"/></svg> 50 <svg class="x" viewBox="0 0 10 7" preserveAspectRatio="none"><path d="M0.7 0.5L9.3 6.5M9.3 0.5L0.7 6.5" stroke="currentColor" stroke-width="1.25" fill="none"/></svg> 1,0</div>
<div class="t rg" style="top:816.07px;font-size:15.6px;left:221.50px;width:400px;text-align:center;transform:scaleX(0.7714);transform-origin:50% 0;">280</div>
<div class="t rg" style="top:816.07px;font-size:15.6px;left:361.50px;width:400px;text-align:center;transform:scaleX(0.7313);transform-origin:50% 0;">18 <svg class="x" viewBox="0 0 10 7" preserveAspectRatio="none"><path d="M0.7 0.5L9.3 6.5M9.3 0.5L0.7 6.5" stroke="currentColor" stroke-width="1.25" fill="none"/></svg> 50</div>
<div class="t rg" style="top:816.07px;font-size:15.6px;left:524.00px;width:400px;text-align:center;transform:scaleX(0.7263);transform-origin:50% 0;">PE</div>
<div class="t rg" style="top:816.07px;font-size:15.6px;left:850.75px;width:400px;text-align:center;transform:scaleX(0.6650);transform-origin:50% 0;">1,5</div>
<div class="t bd" style="top:839.89px;font-size:15.6px;font-weight:bold;left:6.20px;transform:scaleX(0.7547);transform-origin:0 0;">KARIMATKA PE 12 mm</div>
<div class="t rg" style="top:839.69px;font-size:15.6px;left:92.50px;width:400px;text-align:center;transform:scaleX(0.7313);transform-origin:50% 0;">180 <svg class="x" viewBox="0 0 10 7" preserveAspectRatio="none"><path d="M0.7 0.5L9.3 6.5M9.3 0.5L0.7 6.5" stroke="currentColor" stroke-width="1.25" fill="none"/></svg> 50 <svg class="x" viewBox="0 0 10 7" preserveAspectRatio="none"><path d="M0.7 0.5L9.3 6.5M9.3 0.5L0.7 6.5" stroke="currentColor" stroke-width="1.25" fill="none"/></svg> 1,2</div>
<div class="t rg" style="top:839.69px;font-size:15.6px;left:221.50px;width:400px;text-align:center;transform:scaleX(0.7714);transform-origin:50% 0;">310</div>
<div class="t rg" style="top:839.69px;font-size:15.6px;left:361.50px;width:400px;text-align:center;transform:scaleX(0.7313);transform-origin:50% 0;">20 <svg class="x" viewBox="0 0 10 7" preserveAspectRatio="none"><path d="M0.7 0.5L9.3 6.5M9.3 0.5L0.7 6.5" stroke="currentColor" stroke-width="1.25" fill="none"/></svg> 50</div>
<div class="t rg" style="top:839.69px;font-size:15.6px;left:524.00px;width:400px;text-align:center;transform:scaleX(0.7263);transform-origin:50% 0;">PE</div>
<div class="t rg" style="top:839.69px;font-size:15.6px;left:850.75px;width:400px;text-align:center;transform:scaleX(0.7714);transform-origin:50% 0;">1,8</div>
<svg style="position:absolute;left:0;top:872px;filter:blur(0.35px)" width="42" height="46" viewBox="0 0 42 46">
<defs>
<linearGradient id="lg" x1="0" y1="0" x2="1" y2="1">
<stop offset="0" stop-color="#2a9ae6"/><stop offset="0.42" stop-color="#0d3a92"/><stop offset="0.68" stop-color="#0a1660"/><stop offset="1" stop-color="#1f8cdc"/>
</linearGradient>
<linearGradient id="dk" x1="0" y1="0" x2="1" y2="0"><stop offset="0" stop-color="#08104a" stop-opacity="0.9"/><stop offset="1" stop-color="#08104a" stop-opacity="0"/></linearGradient>
</defs>
<rect width="42" height="46" fill="url(#lg)"/>
<rect x="0" y="16" width="6" height="18" fill="url(#dk)"/>
<path d="M9 8 Q22 -0.5 36 8" fill="none" stroke="#5cc8f0" stroke-width="4" stroke-dasharray="1.6 1.2" opacity="0.7"/>
<path d="M1.5 11.5 C3 10.5 6 10 8 11.5 C8.6 17 8.4 24 9.6 30 C11.5 38 17 41 23 40.5 C27 40.2 30 38.5 32.5 36 L36.5 39 C33 43 28 45.2 21.5 45 C11 44.5 3.5 38 2.6 27 C2.2 21 2 15 1.5 11.5 Z" fill="#3d8fb8" stroke="#b2e6f8" stroke-width="0.9"/>
<ellipse cx="21.9" cy="24.8" rx="9.4" ry="13.6" fill="#5f7f9c" stroke="#b2e6f8" stroke-width="1"/>
<ellipse cx="21.9" cy="24.8" rx="6.6" ry="10.4" fill="#2a9ccc" stroke="#9adcf2" stroke-width="0.7"/>
<ellipse cx="22.1" cy="23.4" rx="3.6" ry="6.2" fill="#0a1750"/>
<path d="M27 29 L42 40.5" stroke="#a8e4f7" stroke-width="2.4"/>
</svg>
<div class="t rg" style="top:887.40px;font-size:16.3px;left:49.60px;transform:scaleX(0.7781);transform-origin:0 0;">Tepelný odpor – certifikováno:</div>
<div class="t rg" style="top:887.40px;font-size:16.3px;left:220.90px;transform:scaleX(0.6810);transform-origin:0 0;">VÝZKUMNÝ ÚSTAV POZEMNÍCH STAVEB – CERTIFIKAČNÍ SPOLEČNOST, PRAHA</div>
</body></html>
